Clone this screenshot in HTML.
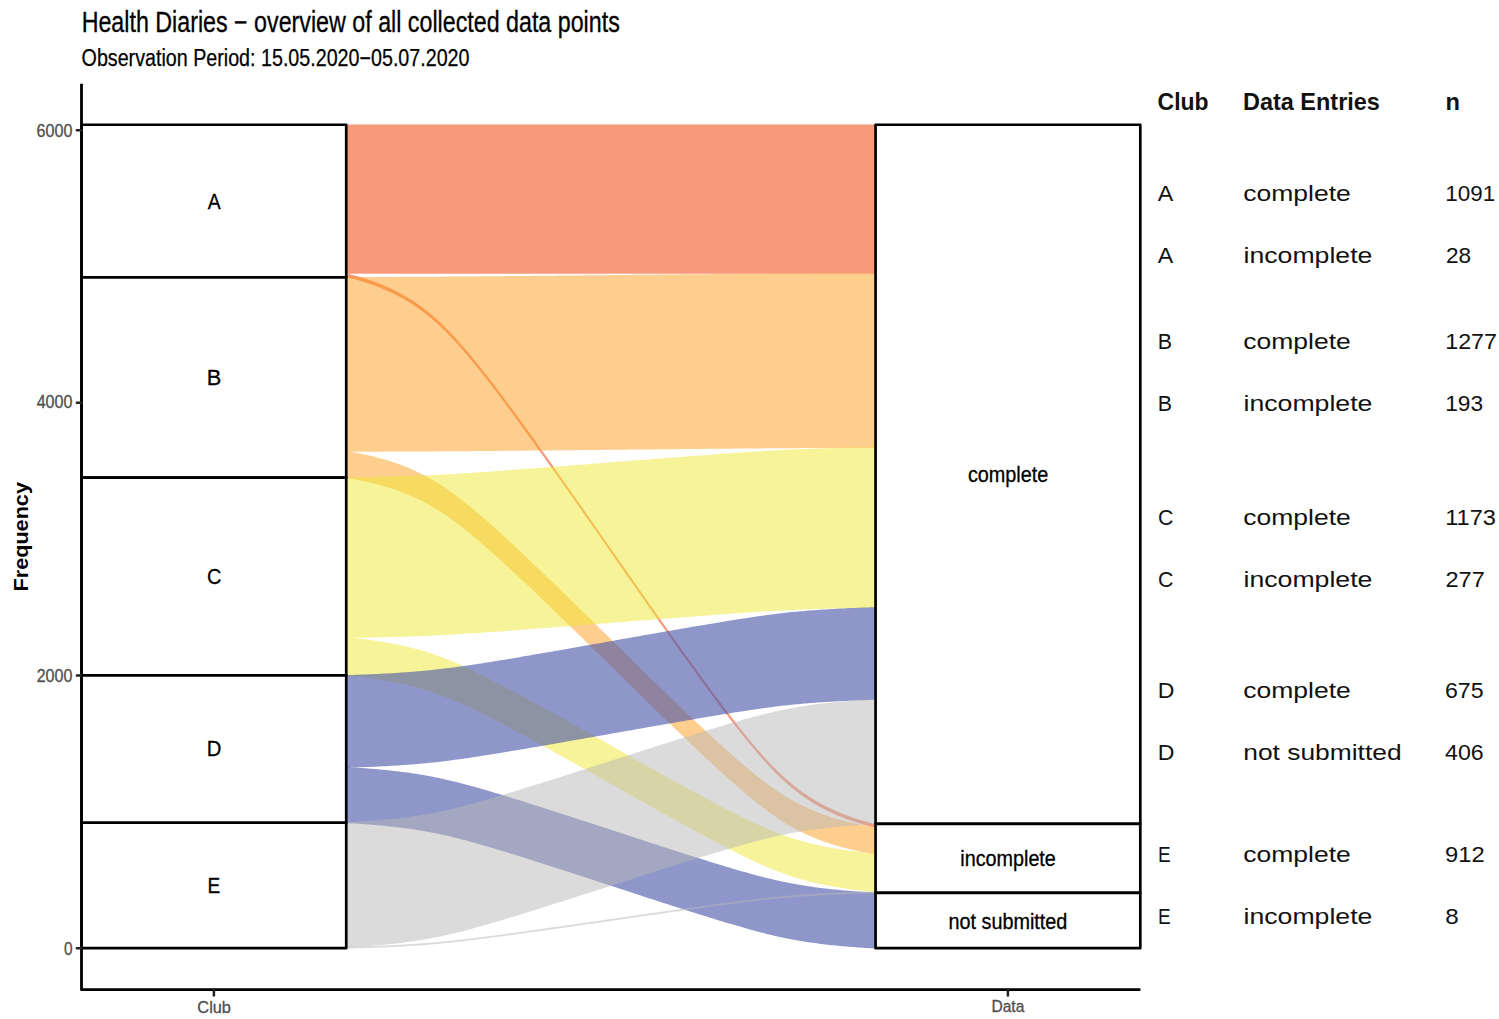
<!DOCTYPE html>
<html><head><meta charset="utf-8"><style>
html,body{margin:0;padding:0;background:#fff;}
svg{display:block;}
text{font-family:"Liberation Sans",sans-serif;}
</style></head><body>
<svg width="1499" height="1019" viewBox="0 0 1499 1019">
<rect width="1499" height="1019" fill="#fff"/>
<path d="M346.23,124.45 L346.23,124.45 L346.24,124.45 L346.27,124.45 L346.33,124.45 L346.42,124.45 L346.55,124.45 L346.73,124.45 L346.96,124.45 L347.26,124.45 L347.62,124.45 L348.06,124.45 L348.57,124.45 L349.16,124.45 L349.84,124.45 L350.60,124.45 L351.44,124.45 L352.38,124.45 L353.40,124.45 L354.51,124.45 L355.71,124.45 L356.99,124.45 L358.35,124.45 L359.80,124.45 L361.32,124.45 L362.91,124.45 L364.57,124.45 L366.29,124.45 L368.08,124.45 L369.91,124.45 L371.80,124.45 L373.72,124.45 L375.69,124.45 L377.69,124.45 L379.72,124.45 L381.78,124.45 L383.85,124.45 L385.94,124.45 L388.05,124.45 L390.16,124.45 L392.28,124.45 L394.40,124.45 L396.52,124.45 L398.65,124.45 L400.77,124.45 L402.88,124.45 L404.99,124.45 L407.09,124.45 L409.19,124.45 L411.28,124.45 L413.36,124.45 L415.43,124.45 L417.50,124.45 L419.56,124.45 L421.62,124.45 L423.67,124.45 L425.72,124.45 L427.77,124.45 L429.82,124.45 L431.87,124.45 L433.92,124.45 L435.98,124.45 L438.04,124.45 L440.11,124.45 L442.20,124.45 L444.29,124.45 L446.40,124.45 L448.53,124.45 L450.67,124.45 L452.84,124.45 L455.03,124.45 L457.24,124.45 L459.48,124.45 L461.75,124.45 L464.05,124.45 L466.38,124.45 L468.75,124.45 L471.15,124.45 L473.58,124.45 L476.06,124.45 L478.57,124.45 L481.11,124.45 L483.69,124.45 L486.32,124.45 L488.98,124.45 L491.69,124.45 L494.43,124.45 L497.22,124.45 L500.05,124.45 L502.93,124.45 L505.85,124.45 L508.81,124.45 L511.82,124.45 L514.88,124.45 L517.98,124.45 L521.12,124.45 L524.30,124.45 L527.53,124.45 L530.81,124.45 L534.12,124.45 L537.48,124.45 L540.87,124.45 L544.31,124.45 L547.78,124.45 L551.29,124.45 L554.83,124.45 L558.41,124.45 L562.02,124.45 L565.66,124.45 L569.33,124.45 L573.02,124.45 L576.74,124.45 L580.48,124.45 L584.24,124.45 L588.01,124.45 L591.80,124.45 L595.61,124.45 L599.42,124.45 L603.24,124.45 L607.07,124.45 L610.90,124.45 L614.73,124.45 L618.56,124.45 L622.38,124.45 L626.19,124.45 L630.00,124.45 L633.79,124.45 L637.56,124.45 L641.32,124.45 L645.06,124.45 L648.78,124.45 L652.47,124.45 L656.14,124.45 L659.78,124.45 L663.39,124.45 L666.97,124.45 L670.51,124.45 L674.02,124.45 L677.49,124.45 L680.93,124.45 L684.32,124.45 L687.68,124.45 L690.99,124.45 L694.27,124.45 L697.50,124.45 L700.68,124.45 L703.82,124.45 L706.92,124.45 L709.98,124.45 L712.99,124.45 L715.95,124.45 L718.87,124.45 L721.75,124.45 L724.58,124.45 L727.37,124.45 L730.11,124.45 L732.82,124.45 L735.48,124.45 L738.11,124.45 L740.69,124.45 L743.24,124.45 L745.74,124.45 L748.22,124.45 L750.65,124.45 L753.05,124.45 L755.42,124.45 L757.75,124.45 L760.05,124.45 L762.32,124.45 L764.56,124.45 L766.77,124.45 L768.96,124.45 L771.13,124.45 L773.27,124.45 L775.40,124.45 L777.51,124.45 L779.60,124.45 L781.69,124.45 L783.76,124.45 L785.82,124.45 L787.88,124.45 L789.93,124.45 L791.98,124.45 L794.03,124.45 L796.08,124.45 L798.13,124.45 L800.18,124.45 L802.24,124.45 L804.30,124.45 L806.37,124.45 L808.44,124.45 L810.52,124.45 L812.61,124.45 L814.71,124.45 L816.81,124.45 L818.92,124.45 L821.03,124.45 L823.15,124.45 L825.28,124.45 L827.40,124.45 L829.52,124.45 L831.64,124.45 L833.75,124.45 L835.86,124.45 L837.95,124.45 L840.02,124.45 L842.08,124.45 L844.11,124.45 L846.11,124.45 L848.08,124.45 L850.00,124.45 L851.89,124.45 L853.72,124.45 L855.51,124.45 L857.23,124.45 L858.89,124.45 L860.48,124.45 L862.00,124.45 L863.45,124.45 L864.81,124.45 L866.09,124.45 L867.29,124.45 L868.40,124.45 L869.42,124.45 L870.36,124.45 L871.20,124.45 L871.96,124.45 L872.64,124.45 L873.23,124.45 L873.74,124.45 L874.18,124.45 L874.54,124.45 L874.84,124.45 L875.07,124.45 L875.25,124.45 L875.38,124.45 L875.47,124.45 L875.53,124.45 L875.56,124.45 L875.57,124.45 L875.57,124.45 L875.57,273.79 L875.57,273.79 L875.56,273.79 L875.53,273.79 L875.47,273.79 L875.38,273.79 L875.25,273.79 L875.07,273.79 L874.84,273.79 L874.54,273.79 L874.18,273.79 L873.74,273.79 L873.23,273.79 L872.64,273.79 L871.96,273.79 L871.20,273.79 L870.36,273.79 L869.42,273.79 L868.40,273.79 L867.29,273.79 L866.09,273.79 L864.81,273.79 L863.45,273.79 L862.00,273.79 L860.48,273.79 L858.89,273.79 L857.23,273.79 L855.51,273.79 L853.72,273.79 L851.89,273.79 L850.00,273.79 L848.08,273.79 L846.11,273.79 L844.11,273.79 L842.08,273.79 L840.02,273.79 L837.95,273.79 L835.86,273.79 L833.75,273.79 L831.64,273.79 L829.52,273.79 L827.40,273.79 L825.28,273.79 L823.15,273.79 L821.03,273.79 L818.92,273.79 L816.81,273.79 L814.71,273.79 L812.61,273.79 L810.52,273.79 L808.44,273.79 L806.37,273.79 L804.30,273.79 L802.24,273.79 L800.18,273.79 L798.13,273.79 L796.08,273.79 L794.03,273.79 L791.98,273.79 L789.93,273.79 L787.88,273.79 L785.82,273.79 L783.76,273.79 L781.69,273.79 L779.60,273.79 L777.51,273.79 L775.40,273.79 L773.27,273.79 L771.13,273.79 L768.96,273.79 L766.77,273.79 L764.56,273.79 L762.32,273.79 L760.05,273.79 L757.75,273.79 L755.42,273.79 L753.05,273.79 L750.65,273.79 L748.22,273.79 L745.74,273.79 L743.24,273.79 L740.69,273.79 L738.11,273.79 L735.48,273.79 L732.82,273.79 L730.11,273.79 L727.37,273.79 L724.58,273.79 L721.75,273.79 L718.87,273.79 L715.95,273.79 L712.99,273.79 L709.98,273.79 L706.92,273.79 L703.82,273.79 L700.68,273.79 L697.50,273.79 L694.27,273.79 L690.99,273.79 L687.68,273.79 L684.32,273.79 L680.93,273.79 L677.49,273.79 L674.02,273.79 L670.51,273.79 L666.97,273.79 L663.39,273.79 L659.78,273.79 L656.14,273.79 L652.47,273.79 L648.78,273.79 L645.06,273.79 L641.32,273.79 L637.56,273.79 L633.79,273.79 L630.00,273.79 L626.19,273.79 L622.38,273.79 L618.56,273.79 L614.73,273.79 L610.90,273.79 L607.07,273.79 L603.24,273.79 L599.42,273.79 L595.61,273.79 L591.80,273.79 L588.01,273.79 L584.24,273.79 L580.48,273.79 L576.74,273.79 L573.02,273.79 L569.33,273.79 L565.66,273.79 L562.02,273.79 L558.41,273.79 L554.83,273.79 L551.29,273.79 L547.78,273.79 L544.31,273.79 L540.87,273.79 L537.48,273.79 L534.12,273.79 L530.81,273.79 L527.53,273.79 L524.30,273.79 L521.12,273.79 L517.98,273.79 L514.88,273.79 L511.82,273.79 L508.81,273.79 L505.85,273.79 L502.93,273.79 L500.05,273.79 L497.22,273.79 L494.43,273.79 L491.69,273.79 L488.98,273.79 L486.32,273.79 L483.69,273.79 L481.11,273.79 L478.57,273.79 L476.06,273.79 L473.58,273.79 L471.15,273.79 L468.75,273.79 L466.38,273.79 L464.05,273.79 L461.75,273.79 L459.48,273.79 L457.24,273.79 L455.03,273.79 L452.84,273.79 L450.67,273.79 L448.53,273.79 L446.40,273.79 L444.29,273.79 L442.20,273.79 L440.11,273.79 L438.04,273.79 L435.98,273.79 L433.92,273.79 L431.87,273.79 L429.82,273.79 L427.77,273.79 L425.72,273.79 L423.67,273.79 L421.62,273.79 L419.56,273.79 L417.50,273.79 L415.43,273.79 L413.36,273.79 L411.28,273.79 L409.19,273.79 L407.09,273.79 L404.99,273.79 L402.88,273.79 L400.77,273.79 L398.65,273.79 L396.52,273.79 L394.40,273.79 L392.28,273.79 L390.16,273.79 L388.05,273.79 L385.94,273.79 L383.85,273.79 L381.78,273.79 L379.72,273.79 L377.69,273.79 L375.69,273.79 L373.72,273.79 L371.80,273.79 L369.91,273.79 L368.08,273.79 L366.29,273.79 L364.57,273.79 L362.91,273.79 L361.32,273.79 L359.80,273.79 L358.35,273.79 L356.99,273.79 L355.71,273.79 L354.51,273.79 L353.40,273.79 L352.38,273.79 L351.44,273.79 L350.60,273.79 L349.84,273.79 L349.16,273.79 L348.57,273.79 L348.06,273.79 L347.62,273.79 L347.26,273.79 L346.96,273.79 L346.73,273.79 L346.55,273.79 L346.42,273.79 L346.33,273.79 L346.27,273.79 L346.24,273.79 L346.23,273.79 L346.23,273.79Z" fill="#F03B01" fill-opacity="0.52"/>
<path d="M346.23,273.49 L346.23,273.49 L346.24,273.49 L346.27,273.50 L346.33,273.51 L346.42,273.52 L346.55,273.55 L346.73,273.58 L346.96,273.63 L347.26,273.69 L347.62,273.77 L348.06,273.86 L348.57,273.98 L349.16,274.11 L349.84,274.27 L350.60,274.45 L351.44,274.65 L352.38,274.89 L353.40,275.15 L354.51,275.44 L355.71,275.76 L356.99,276.11 L358.35,276.50 L359.80,276.92 L361.32,277.37 L362.91,277.86 L364.57,278.38 L366.29,278.94 L368.08,279.53 L369.91,280.15 L371.80,280.81 L373.72,281.51 L375.69,282.24 L377.69,283.00 L379.72,283.80 L381.78,284.63 L383.85,285.50 L385.94,286.40 L388.05,287.33 L390.16,288.29 L392.28,289.29 L394.40,290.32 L396.52,291.39 L398.65,292.48 L400.77,293.62 L402.88,294.78 L404.99,295.98 L407.09,297.21 L409.19,298.48 L411.28,299.78 L413.36,301.12 L415.43,302.50 L417.50,303.91 L419.56,305.37 L421.62,306.86 L423.67,308.40 L425.72,309.98 L427.77,311.61 L429.82,313.28 L431.87,314.99 L433.92,316.76 L435.98,318.58 L438.04,320.45 L440.11,322.37 L442.20,324.36 L444.29,326.40 L446.40,328.50 L448.53,330.66 L450.67,332.88 L452.84,335.18 L455.03,337.54 L457.24,339.97 L459.48,342.47 L461.75,345.05 L464.05,347.70 L466.38,350.42 L468.75,353.23 L471.15,356.11 L473.58,359.07 L476.06,362.10 L478.57,365.22 L481.11,368.41 L483.69,371.68 L486.32,375.03 L488.98,378.45 L491.69,381.96 L494.43,385.55 L497.22,389.21 L500.05,392.96 L502.93,396.79 L505.85,400.70 L508.81,404.69 L511.82,408.77 L514.88,412.92 L517.98,417.15 L521.12,421.46 L524.30,425.85 L527.53,430.31 L530.81,434.85 L534.12,439.47 L537.48,444.15 L540.87,448.90 L544.31,453.73 L547.78,458.61 L551.29,463.56 L554.83,468.57 L558.41,473.64 L562.02,478.76 L565.66,483.94 L569.33,489.16 L573.02,494.42 L576.74,499.73 L580.48,505.07 L584.24,510.45 L588.01,515.85 L591.80,521.28 L595.61,526.74 L599.42,532.21 L603.24,537.69 L607.07,543.18 L610.90,548.68 L614.73,554.17 L618.56,559.66 L622.38,565.15 L626.19,570.62 L630.00,576.07 L633.79,581.50 L637.56,586.91 L641.32,592.28 L645.06,597.63 L648.78,602.93 L652.47,608.20 L656.14,613.42 L659.78,618.59 L663.39,623.71 L666.97,628.78 L670.51,633.79 L674.02,638.74 L677.49,643.63 L680.93,648.45 L684.32,653.20 L687.68,657.89 L690.99,662.50 L694.27,667.04 L697.50,671.50 L700.68,675.89 L703.82,680.20 L706.92,684.43 L709.98,688.59 L712.99,692.66 L715.95,696.65 L718.87,700.56 L721.75,704.39 L724.58,708.14 L727.37,711.81 L730.11,715.39 L732.82,718.90 L735.48,722.33 L738.11,725.67 L740.69,728.94 L743.24,732.13 L745.74,735.25 L748.22,738.29 L750.65,741.25 L753.05,744.13 L755.42,746.93 L757.75,749.66 L760.05,752.31 L762.32,754.88 L764.56,757.38 L766.77,759.82 L768.96,762.18 L771.13,764.47 L773.27,766.69 L775.40,768.86 L777.51,770.96 L779.60,773.00 L781.69,774.98 L783.76,776.90 L785.82,778.77 L787.88,780.59 L789.93,782.36 L791.98,784.08 L794.03,785.75 L796.08,787.37 L798.13,788.95 L800.18,790.49 L802.24,791.98 L804.30,793.44 L806.37,794.85 L808.44,796.23 L810.52,797.57 L812.61,798.87 L814.71,800.14 L816.81,801.37 L818.92,802.57 L821.03,803.74 L823.15,804.87 L825.28,805.96 L827.40,807.03 L829.52,808.06 L831.64,809.06 L833.75,810.02 L835.86,810.95 L837.95,811.85 L840.02,812.72 L842.08,813.55 L844.11,814.35 L846.11,815.11 L848.08,815.84 L850.00,816.54 L851.89,817.20 L853.72,817.82 L855.51,818.41 L857.23,818.97 L858.89,819.49 L860.48,819.98 L862.00,820.43 L863.45,820.85 L864.81,821.24 L866.09,821.59 L867.29,821.91 L868.40,822.20 L869.42,822.47 L870.36,822.70 L871.20,822.91 L871.96,823.09 L872.64,823.24 L873.23,823.38 L873.74,823.49 L874.18,823.58 L874.54,823.66 L874.84,823.72 L875.07,823.77 L875.25,823.80 L875.38,823.83 L875.47,823.85 L875.53,823.86 L875.56,823.86 L875.57,823.86 L875.57,823.86 L875.57,827.68 L875.57,827.68 L875.56,827.68 L875.53,827.67 L875.47,827.66 L875.38,827.65 L875.25,827.62 L875.07,827.59 L874.84,827.54 L874.54,827.48 L874.18,827.40 L873.74,827.31 L873.23,827.19 L872.64,827.06 L871.96,826.90 L871.20,826.72 L870.36,826.52 L869.42,826.28 L868.40,826.02 L867.29,825.73 L866.09,825.41 L864.81,825.06 L863.45,824.67 L862.00,824.25 L860.48,823.80 L858.89,823.31 L857.23,822.79 L855.51,822.23 L853.72,821.64 L851.89,821.02 L850.00,820.35 L848.08,819.66 L846.11,818.93 L844.11,818.17 L842.08,817.37 L840.02,816.54 L837.95,815.67 L835.86,814.77 L833.75,813.84 L831.64,812.87 L829.52,811.88 L827.40,810.85 L825.28,809.78 L823.15,808.68 L821.03,807.55 L818.92,806.39 L816.81,805.19 L814.71,803.96 L812.61,802.69 L810.52,801.39 L808.44,800.05 L806.37,798.67 L804.30,797.26 L802.24,795.80 L800.18,794.31 L798.13,792.77 L796.08,791.19 L794.03,789.56 L791.98,787.89 L789.93,786.18 L787.88,784.41 L785.82,782.59 L783.76,780.72 L781.69,778.80 L779.60,776.81 L777.51,774.77 L775.40,772.67 L773.27,770.51 L771.13,768.29 L768.96,765.99 L766.77,763.63 L764.56,761.20 L762.32,758.70 L760.05,756.12 L757.75,753.47 L755.42,750.75 L753.05,747.94 L750.65,745.06 L748.22,742.10 L745.74,739.07 L743.24,735.95 L740.69,732.76 L738.11,729.49 L735.48,726.14 L732.82,722.72 L730.11,719.21 L727.37,715.62 L724.58,711.96 L721.75,708.21 L718.87,704.38 L715.95,700.47 L712.99,696.48 L709.98,692.40 L706.92,688.25 L703.82,684.02 L700.68,679.71 L697.50,675.32 L694.27,670.86 L690.99,666.32 L687.68,661.70 L684.32,657.02 L680.93,652.26 L677.49,647.44 L674.02,642.56 L670.51,637.61 L666.97,632.60 L663.39,627.53 L659.78,622.41 L656.14,617.23 L652.47,612.01 L648.78,606.75 L645.06,601.44 L641.32,596.10 L637.56,590.72 L633.79,585.32 L630.00,579.89 L626.19,574.43 L622.38,568.96 L618.56,563.48 L614.73,557.99 L610.90,552.49 L607.07,547.00 L603.24,541.51 L599.42,536.02 L595.61,530.55 L591.80,525.10 L588.01,519.67 L584.24,514.26 L580.48,508.89 L576.74,503.54 L573.02,498.24 L569.33,492.97 L565.66,487.75 L562.02,482.58 L558.41,477.46 L554.83,472.39 L551.29,467.38 L547.78,462.43 L544.31,457.54 L540.87,452.72 L537.48,447.97 L534.12,443.28 L530.81,438.67 L527.53,434.13 L524.30,429.67 L521.12,425.28 L517.98,420.97 L514.88,416.74 L511.82,412.58 L508.81,408.51 L505.85,404.52 L502.93,400.61 L500.05,396.78 L497.22,393.03 L494.43,389.36 L491.69,385.78 L488.98,382.27 L486.32,378.84 L483.69,375.50 L481.11,372.23 L478.57,369.03 L476.06,365.92 L473.58,362.88 L471.15,359.92 L468.75,357.04 L466.38,354.24 L464.05,351.51 L461.75,348.86 L459.48,346.29 L457.24,343.79 L455.03,341.35 L452.84,338.99 L450.67,336.70 L448.53,334.48 L446.40,332.31 L444.29,330.21 L442.20,328.17 L440.11,326.19 L438.04,324.27 L435.98,322.40 L433.92,320.58 L431.87,318.81 L429.82,317.09 L427.77,315.42 L425.72,313.80 L423.67,312.22 L421.62,310.68 L419.56,309.19 L417.50,307.73 L415.43,306.32 L413.36,304.94 L411.28,303.60 L409.19,302.30 L407.09,301.03 L404.99,299.80 L402.88,298.60 L400.77,297.43 L398.65,296.30 L396.52,295.21 L394.40,294.14 L392.28,293.11 L390.16,292.11 L388.05,291.15 L385.94,290.22 L383.85,289.32 L381.78,288.45 L379.72,287.62 L377.69,286.82 L375.69,286.06 L373.72,285.33 L371.80,284.63 L369.91,283.97 L368.08,283.35 L366.29,282.75 L364.57,282.20 L362.91,281.68 L361.32,281.19 L359.80,280.74 L358.35,280.32 L356.99,279.93 L355.71,279.58 L354.51,279.26 L353.40,278.96 L352.38,278.70 L351.44,278.47 L350.60,278.26 L349.84,278.08 L349.16,277.93 L348.57,277.79 L348.06,277.68 L347.62,277.59 L347.26,277.51 L346.96,277.45 L346.73,277.40 L346.55,277.36 L346.42,277.34 L346.33,277.32 L346.27,277.31 L346.24,277.31 L346.23,277.31 L346.23,277.31Z" fill="#F03B01" fill-opacity="0.52"/>
<path d="M346.23,277.01 L346.23,277.01 L346.24,277.01 L346.27,277.01 L346.33,277.01 L346.42,277.01 L346.55,277.00 L346.73,277.00 L346.96,277.00 L347.26,277.00 L347.62,277.00 L348.06,277.00 L348.57,277.00 L349.16,277.00 L349.84,277.00 L350.60,277.00 L351.44,277.00 L352.38,277.00 L353.40,276.99 L354.51,276.99 L355.71,276.99 L356.99,276.99 L358.35,276.98 L359.80,276.98 L361.32,276.98 L362.91,276.97 L364.57,276.97 L366.29,276.97 L368.08,276.96 L369.91,276.96 L371.80,276.95 L373.72,276.95 L375.69,276.94 L377.69,276.94 L379.72,276.93 L381.78,276.93 L383.85,276.92 L385.94,276.92 L388.05,276.91 L390.16,276.90 L392.28,276.90 L394.40,276.89 L396.52,276.88 L398.65,276.87 L400.77,276.87 L402.88,276.86 L404.99,276.85 L407.09,276.84 L409.19,276.83 L411.28,276.82 L413.36,276.81 L415.43,276.80 L417.50,276.79 L419.56,276.78 L421.62,276.77 L423.67,276.76 L425.72,276.75 L427.77,276.74 L429.82,276.73 L431.87,276.72 L433.92,276.71 L435.98,276.69 L438.04,276.68 L440.11,276.67 L442.20,276.65 L444.29,276.64 L446.40,276.62 L448.53,276.61 L450.67,276.59 L452.84,276.58 L455.03,276.56 L457.24,276.54 L459.48,276.53 L461.75,276.51 L464.05,276.49 L466.38,276.47 L468.75,276.45 L471.15,276.43 L473.58,276.41 L476.06,276.39 L478.57,276.37 L481.11,276.35 L483.69,276.32 L486.32,276.30 L488.98,276.28 L491.69,276.25 L494.43,276.23 L497.22,276.20 L500.05,276.18 L502.93,276.15 L505.85,276.12 L508.81,276.10 L511.82,276.07 L514.88,276.04 L517.98,276.01 L521.12,275.98 L524.30,275.95 L527.53,275.92 L530.81,275.89 L534.12,275.85 L537.48,275.82 L540.87,275.79 L544.31,275.76 L547.78,275.72 L551.29,275.69 L554.83,275.65 L558.41,275.62 L562.02,275.58 L565.66,275.55 L569.33,275.51 L573.02,275.47 L576.74,275.44 L580.48,275.40 L584.24,275.36 L588.01,275.32 L591.80,275.29 L595.61,275.25 L599.42,275.21 L603.24,275.17 L607.07,275.13 L610.90,275.10 L614.73,275.06 L618.56,275.02 L622.38,274.98 L626.19,274.94 L630.00,274.91 L633.79,274.87 L637.56,274.83 L641.32,274.79 L645.06,274.76 L648.78,274.72 L652.47,274.68 L656.14,274.65 L659.78,274.61 L663.39,274.58 L666.97,274.54 L670.51,274.51 L674.02,274.47 L677.49,274.44 L680.93,274.40 L684.32,274.37 L687.68,274.34 L690.99,274.31 L694.27,274.28 L697.50,274.24 L700.68,274.21 L703.82,274.18 L706.92,274.16 L709.98,274.13 L712.99,274.10 L715.95,274.07 L718.87,274.04 L721.75,274.02 L724.58,273.99 L727.37,273.97 L730.11,273.94 L732.82,273.92 L735.48,273.89 L738.11,273.87 L740.69,273.85 L743.24,273.82 L745.74,273.80 L748.22,273.78 L750.65,273.76 L753.05,273.74 L755.42,273.72 L757.75,273.70 L760.05,273.68 L762.32,273.67 L764.56,273.65 L766.77,273.63 L768.96,273.62 L771.13,273.60 L773.27,273.58 L775.40,273.57 L777.51,273.55 L779.60,273.54 L781.69,273.53 L783.76,273.51 L785.82,273.50 L787.88,273.49 L789.93,273.48 L791.98,273.46 L794.03,273.45 L796.08,273.44 L798.13,273.43 L800.18,273.42 L802.24,273.41 L804.30,273.40 L806.37,273.39 L808.44,273.38 L810.52,273.37 L812.61,273.36 L814.71,273.35 L816.81,273.34 L818.92,273.34 L821.03,273.33 L823.15,273.32 L825.28,273.31 L827.40,273.30 L829.52,273.30 L831.64,273.29 L833.75,273.28 L835.86,273.28 L837.95,273.27 L840.02,273.27 L842.08,273.26 L844.11,273.25 L846.11,273.25 L848.08,273.24 L850.00,273.24 L851.89,273.23 L853.72,273.23 L855.51,273.23 L857.23,273.22 L858.89,273.22 L860.48,273.21 L862.00,273.21 L863.45,273.21 L864.81,273.21 L866.09,273.20 L867.29,273.20 L868.40,273.20 L869.42,273.20 L870.36,273.20 L871.20,273.19 L871.96,273.19 L872.64,273.19 L873.23,273.19 L873.74,273.19 L874.18,273.19 L874.54,273.19 L874.84,273.19 L875.07,273.19 L875.25,273.19 L875.38,273.19 L875.47,273.19 L875.53,273.19 L875.56,273.19 L875.57,273.19 L875.57,273.19 L875.57,447.89 L875.57,447.89 L875.56,447.89 L875.53,447.89 L875.47,447.89 L875.38,447.89 L875.25,447.89 L875.07,447.89 L874.84,447.89 L874.54,447.89 L874.18,447.89 L873.74,447.89 L873.23,447.89 L872.64,447.89 L871.96,447.89 L871.20,447.89 L870.36,447.89 L869.42,447.89 L868.40,447.90 L867.29,447.90 L866.09,447.90 L864.81,447.90 L863.45,447.91 L862.00,447.91 L860.48,447.91 L858.89,447.92 L857.23,447.92 L855.51,447.92 L853.72,447.93 L851.89,447.93 L850.00,447.94 L848.08,447.94 L846.11,447.95 L844.11,447.95 L842.08,447.96 L840.02,447.96 L837.95,447.97 L835.86,447.97 L833.75,447.98 L831.64,447.99 L829.52,447.99 L827.40,448.00 L825.28,448.01 L823.15,448.02 L821.03,448.02 L818.92,448.03 L816.81,448.04 L814.71,448.05 L812.61,448.06 L810.52,448.07 L808.44,448.08 L806.37,448.09 L804.30,448.10 L802.24,448.11 L800.18,448.12 L798.13,448.13 L796.08,448.14 L794.03,448.15 L791.98,448.16 L789.93,448.17 L787.88,448.19 L785.82,448.20 L783.76,448.21 L781.69,448.22 L779.60,448.24 L777.51,448.25 L775.40,448.27 L773.27,448.28 L771.13,448.30 L768.96,448.31 L766.77,448.33 L764.56,448.35 L762.32,448.36 L760.05,448.38 L757.75,448.40 L755.42,448.42 L753.05,448.44 L750.65,448.46 L748.22,448.48 L745.74,448.50 L743.24,448.52 L740.69,448.54 L738.11,448.57 L735.48,448.59 L732.82,448.61 L730.11,448.64 L727.37,448.66 L724.58,448.69 L721.75,448.71 L718.87,448.74 L715.95,448.77 L712.99,448.80 L709.98,448.82 L706.92,448.85 L703.82,448.88 L700.68,448.91 L697.50,448.94 L694.27,448.97 L690.99,449.00 L687.68,449.04 L684.32,449.07 L680.93,449.10 L677.49,449.14 L674.02,449.17 L670.51,449.20 L666.97,449.24 L663.39,449.27 L659.78,449.31 L656.14,449.34 L652.47,449.38 L648.78,449.42 L645.06,449.45 L641.32,449.49 L637.56,449.53 L633.79,449.57 L630.00,449.60 L626.19,449.64 L622.38,449.68 L618.56,449.72 L614.73,449.76 L610.90,449.79 L607.07,449.83 L603.24,449.87 L599.42,449.91 L595.61,449.95 L591.80,449.98 L588.01,450.02 L584.24,450.06 L580.48,450.10 L576.74,450.13 L573.02,450.17 L569.33,450.21 L565.66,450.24 L562.02,450.28 L558.41,450.31 L554.83,450.35 L551.29,450.38 L547.78,450.42 L544.31,450.45 L540.87,450.49 L537.48,450.52 L534.12,450.55 L530.81,450.58 L527.53,450.61 L524.30,450.65 L521.12,450.68 L517.98,450.71 L514.88,450.74 L511.82,450.76 L508.81,450.79 L505.85,450.82 L502.93,450.85 L500.05,450.87 L497.22,450.90 L494.43,450.93 L491.69,450.95 L488.98,450.97 L486.32,451.00 L483.69,451.02 L481.11,451.04 L478.57,451.07 L476.06,451.09 L473.58,451.11 L471.15,451.13 L468.75,451.15 L466.38,451.17 L464.05,451.19 L461.75,451.21 L459.48,451.22 L457.24,451.24 L455.03,451.26 L452.84,451.27 L450.67,451.29 L448.53,451.31 L446.40,451.32 L444.29,451.34 L442.20,451.35 L440.11,451.36 L438.04,451.38 L435.98,451.39 L433.92,451.40 L431.87,451.41 L429.82,451.43 L427.77,451.44 L425.72,451.45 L423.67,451.46 L421.62,451.47 L419.56,451.48 L417.50,451.49 L415.43,451.50 L413.36,451.51 L411.28,451.52 L409.19,451.53 L407.09,451.54 L404.99,451.55 L402.88,451.55 L400.77,451.56 L398.65,451.57 L396.52,451.58 L394.40,451.59 L392.28,451.59 L390.16,451.60 L388.05,451.61 L385.94,451.61 L383.85,451.62 L381.78,451.63 L379.72,451.63 L377.69,451.64 L375.69,451.64 L373.72,451.65 L371.80,451.65 L369.91,451.66 L368.08,451.66 L366.29,451.66 L364.57,451.67 L362.91,451.67 L361.32,451.68 L359.80,451.68 L358.35,451.68 L356.99,451.68 L355.71,451.69 L354.51,451.69 L353.40,451.69 L352.38,451.69 L351.44,451.69 L350.60,451.70 L349.84,451.70 L349.16,451.70 L348.57,451.70 L348.06,451.70 L347.62,451.70 L347.26,451.70 L346.96,451.70 L346.73,451.70 L346.55,451.70 L346.42,451.70 L346.33,451.70 L346.27,451.70 L346.24,451.70 L346.23,451.70 L346.23,451.70Z" fill="#FD9D1D" fill-opacity="0.5"/>
<path d="M346.23,451.10 L346.23,451.10 L346.24,451.10 L346.27,451.11 L346.33,451.11 L346.42,451.13 L346.55,451.14 L346.73,451.17 L346.96,451.20 L347.26,451.24 L347.62,451.29 L348.06,451.36 L348.57,451.44 L349.16,451.53 L349.84,451.63 L350.60,451.76 L351.44,451.90 L352.38,452.06 L353.40,452.24 L354.51,452.44 L355.71,452.66 L356.99,452.90 L358.35,453.16 L359.80,453.45 L361.32,453.76 L362.91,454.09 L364.57,454.45 L366.29,454.83 L368.08,455.23 L369.91,455.66 L371.80,456.11 L373.72,456.59 L375.69,457.09 L377.69,457.61 L379.72,458.15 L381.78,458.72 L383.85,459.31 L385.94,459.93 L388.05,460.57 L390.16,461.23 L392.28,461.91 L394.40,462.61 L396.52,463.34 L398.65,464.09 L400.77,464.86 L402.88,465.66 L404.99,466.48 L407.09,467.32 L409.19,468.19 L411.28,469.08 L413.36,469.99 L415.43,470.94 L417.50,471.90 L419.56,472.90 L421.62,473.92 L423.67,474.97 L425.72,476.05 L427.77,477.16 L429.82,478.30 L431.87,479.48 L433.92,480.69 L435.98,481.93 L438.04,483.21 L440.11,484.53 L442.20,485.88 L444.29,487.27 L446.40,488.71 L448.53,490.19 L450.67,491.71 L452.84,493.28 L455.03,494.89 L457.24,496.55 L459.48,498.26 L461.75,500.02 L464.05,501.84 L466.38,503.70 L468.75,505.62 L471.15,507.59 L473.58,509.61 L476.06,511.69 L478.57,513.82 L481.11,516.00 L483.69,518.23 L486.32,520.52 L488.98,522.86 L491.69,525.26 L494.43,527.71 L497.22,530.22 L500.05,532.78 L502.93,535.40 L505.85,538.08 L508.81,540.80 L511.82,543.59 L514.88,546.43 L517.98,549.32 L521.12,552.27 L524.30,555.27 L527.53,558.32 L530.81,561.42 L534.12,564.58 L537.48,567.78 L540.87,571.03 L544.31,574.33 L547.78,577.67 L551.29,581.05 L554.83,584.48 L558.41,587.94 L562.02,591.44 L565.66,594.98 L569.33,598.55 L573.02,602.15 L576.74,605.78 L580.48,609.43 L584.24,613.11 L588.01,616.80 L591.80,620.51 L595.61,624.24 L599.42,627.98 L603.24,631.73 L607.07,635.48 L610.90,639.24 L614.73,643.00 L618.56,646.75 L622.38,650.50 L626.19,654.24 L630.00,657.97 L633.79,661.68 L637.56,665.38 L641.32,669.05 L645.06,672.71 L648.78,676.34 L652.47,679.93 L656.14,683.50 L659.78,687.04 L663.39,690.54 L666.97,694.01 L670.51,697.43 L674.02,700.82 L677.49,704.16 L680.93,707.45 L684.32,710.70 L687.68,713.91 L690.99,717.06 L694.27,720.16 L697.50,723.22 L700.68,726.22 L703.82,729.16 L706.92,732.06 L709.98,734.90 L712.99,737.68 L715.95,740.41 L718.87,743.08 L721.75,745.70 L724.58,748.26 L727.37,750.77 L730.11,753.22 L732.82,755.62 L735.48,757.96 L738.11,760.25 L740.69,762.49 L743.24,764.67 L745.74,766.80 L748.22,768.87 L750.65,770.90 L753.05,772.87 L755.42,774.78 L757.75,776.65 L760.05,778.46 L762.32,780.22 L764.56,781.93 L766.77,783.59 L768.96,785.21 L771.13,786.77 L773.27,788.30 L775.40,789.77 L777.51,791.21 L779.60,792.60 L781.69,793.96 L783.76,795.28 L785.82,796.55 L787.88,797.80 L789.93,799.00 L791.98,800.18 L794.03,801.32 L796.08,802.43 L798.13,803.51 L800.18,804.56 L802.24,805.59 L804.30,806.58 L806.37,807.55 L808.44,808.49 L810.52,809.41 L812.61,810.30 L814.71,811.16 L816.81,812.01 L818.92,812.83 L821.03,813.62 L823.15,814.39 L825.28,815.14 L827.40,815.87 L829.52,816.58 L831.64,817.26 L833.75,817.92 L835.86,818.56 L837.95,819.17 L840.02,819.76 L842.08,820.33 L844.11,820.88 L846.11,821.40 L848.08,821.90 L850.00,822.37 L851.89,822.82 L853.72,823.25 L855.51,823.66 L857.23,824.04 L858.89,824.39 L860.48,824.73 L862.00,825.04 L863.45,825.32 L864.81,825.59 L866.09,825.83 L867.29,826.05 L868.40,826.25 L869.42,826.43 L870.36,826.59 L871.20,826.73 L871.96,826.85 L872.64,826.96 L873.23,827.05 L873.74,827.13 L874.18,827.19 L874.54,827.24 L874.84,827.28 L875.07,827.32 L875.25,827.34 L875.38,827.36 L875.47,827.37 L875.53,827.38 L875.56,827.38 L875.57,827.38 L875.57,827.38 L875.57,854.29 L875.57,854.29 L875.56,854.29 L875.53,854.29 L875.47,854.28 L875.38,854.27 L875.25,854.25 L875.07,854.23 L874.84,854.20 L874.54,854.15 L874.18,854.10 L873.74,854.04 L873.23,853.96 L872.64,853.87 L871.96,853.76 L871.20,853.64 L870.36,853.50 L869.42,853.34 L868.40,853.16 L867.29,852.96 L866.09,852.74 L864.81,852.50 L863.45,852.23 L862.00,851.95 L860.48,851.64 L858.89,851.31 L857.23,850.95 L855.51,850.57 L853.72,850.16 L851.89,849.74 L850.00,849.28 L848.08,848.81 L846.11,848.31 L844.11,847.79 L842.08,847.24 L840.02,846.67 L837.95,846.08 L835.86,845.47 L833.75,844.83 L831.64,844.17 L829.52,843.49 L827.40,842.78 L825.28,842.06 L823.15,841.31 L821.03,840.53 L818.92,839.74 L816.81,838.92 L814.71,838.08 L812.61,837.21 L810.52,836.32 L808.44,835.40 L806.37,834.46 L804.30,833.49 L802.24,832.50 L800.18,831.48 L798.13,830.42 L796.08,829.34 L794.03,828.23 L791.98,827.09 L789.93,825.92 L787.88,824.71 L785.82,823.47 L783.76,822.19 L781.69,820.87 L779.60,819.52 L777.51,818.12 L775.40,816.69 L773.27,815.21 L771.13,813.69 L768.96,812.12 L766.77,810.50 L764.56,808.84 L762.32,807.13 L760.05,805.37 L757.75,803.56 L755.42,801.70 L753.05,799.78 L750.65,797.81 L748.22,795.79 L745.74,793.71 L743.24,791.58 L740.69,789.40 L738.11,787.16 L735.48,784.88 L732.82,782.53 L730.11,780.14 L727.37,777.68 L724.58,775.18 L721.75,772.61 L718.87,769.99 L715.95,767.32 L712.99,764.59 L709.98,761.81 L706.92,758.97 L703.82,756.08 L700.68,753.13 L697.50,750.13 L694.27,747.08 L690.99,743.97 L687.68,740.82 L684.32,737.62 L680.93,734.37 L677.49,731.07 L674.02,727.73 L670.51,724.34 L666.97,720.92 L663.39,717.45 L659.78,713.95 L656.14,710.42 L652.47,706.85 L648.78,703.25 L645.06,699.62 L641.32,695.97 L637.56,692.29 L633.79,688.59 L630.00,684.88 L626.19,681.15 L622.38,677.41 L618.56,673.67 L614.73,669.91 L610.90,666.15 L607.07,662.40 L603.24,658.64 L599.42,654.89 L595.61,651.16 L591.80,647.43 L588.01,643.71 L584.24,640.02 L580.48,636.34 L576.74,632.69 L573.02,629.06 L569.33,625.46 L565.66,621.89 L562.02,618.36 L558.41,614.85 L554.83,611.39 L551.29,607.96 L547.78,604.58 L544.31,601.24 L540.87,597.94 L537.48,594.69 L534.12,591.49 L530.81,588.34 L527.53,585.23 L524.30,582.18 L521.12,579.18 L517.98,576.23 L514.88,573.34 L511.82,570.50 L508.81,567.72 L505.85,564.99 L502.93,562.31 L500.05,559.70 L497.22,557.13 L494.43,554.63 L491.69,552.17 L488.98,549.78 L486.32,547.43 L483.69,545.14 L481.11,542.91 L478.57,540.73 L476.06,538.60 L473.58,536.52 L471.15,534.50 L468.75,532.53 L466.38,530.61 L464.05,528.75 L461.75,526.94 L459.48,525.18 L457.24,523.47 L455.03,521.80 L452.84,520.19 L450.67,518.62 L448.53,517.10 L446.40,515.62 L444.29,514.19 L442.20,512.79 L440.11,511.44 L438.04,510.12 L435.98,508.84 L433.92,507.60 L431.87,506.39 L429.82,505.22 L427.77,504.08 L425.72,502.96 L423.67,501.88 L421.62,500.83 L419.56,499.81 L417.50,498.82 L415.43,497.85 L413.36,496.91 L411.28,495.99 L409.19,495.10 L407.09,494.23 L404.99,493.39 L402.88,492.57 L400.77,491.78 L398.65,491.00 L396.52,490.25 L394.40,489.52 L392.28,488.82 L390.16,488.14 L388.05,487.48 L385.94,486.84 L383.85,486.23 L381.78,485.63 L379.72,485.07 L377.69,484.52 L375.69,484.00 L373.72,483.50 L371.80,483.02 L369.91,482.57 L368.08,482.14 L366.29,481.74 L364.57,481.36 L362.91,481.00 L361.32,480.67 L359.80,480.36 L358.35,480.07 L356.99,479.81 L355.71,479.57 L354.51,479.35 L353.40,479.15 L352.38,478.97 L351.44,478.81 L350.60,478.67 L349.84,478.55 L349.16,478.44 L348.57,478.35 L348.06,478.27 L347.62,478.21 L347.26,478.15 L346.96,478.11 L346.73,478.08 L346.55,478.06 L346.42,478.04 L346.33,478.03 L346.27,478.02 L346.24,478.02 L346.23,478.02 L346.23,478.01Z" fill="#FD9D1D" fill-opacity="0.5"/>
<path d="M346.23,477.41 L346.23,477.41 L346.24,477.41 L346.27,477.41 L346.33,477.41 L346.42,477.41 L346.55,477.41 L346.73,477.41 L346.96,477.41 L347.26,477.40 L347.62,477.40 L348.06,477.39 L348.57,477.39 L349.16,477.38 L349.84,477.37 L350.60,477.36 L351.44,477.35 L352.38,477.34 L353.40,477.32 L354.51,477.31 L355.71,477.29 L356.99,477.27 L358.35,477.25 L359.80,477.23 L361.32,477.20 L362.91,477.18 L364.57,477.15 L366.29,477.12 L368.08,477.08 L369.91,477.05 L371.80,477.01 L373.72,476.98 L375.69,476.94 L377.69,476.89 L379.72,476.85 L381.78,476.80 L383.85,476.76 L385.94,476.71 L388.05,476.66 L390.16,476.60 L392.28,476.55 L394.40,476.49 L396.52,476.43 L398.65,476.37 L400.77,476.31 L402.88,476.25 L404.99,476.18 L407.09,476.12 L409.19,476.05 L411.28,475.98 L413.36,475.90 L415.43,475.83 L417.50,475.75 L419.56,475.67 L421.62,475.59 L423.67,475.50 L425.72,475.42 L427.77,475.33 L429.82,475.24 L431.87,475.14 L433.92,475.05 L435.98,474.95 L438.04,474.84 L440.11,474.74 L442.20,474.63 L444.29,474.52 L446.40,474.40 L448.53,474.29 L450.67,474.16 L452.84,474.04 L455.03,473.91 L457.24,473.78 L459.48,473.64 L461.75,473.50 L464.05,473.35 L466.38,473.20 L468.75,473.05 L471.15,472.89 L473.58,472.73 L476.06,472.56 L478.57,472.39 L481.11,472.22 L483.69,472.04 L486.32,471.86 L488.98,471.67 L491.69,471.48 L494.43,471.28 L497.22,471.08 L500.05,470.87 L502.93,470.66 L505.85,470.45 L508.81,470.23 L511.82,470.01 L514.88,469.78 L517.98,469.55 L521.12,469.31 L524.30,469.07 L527.53,468.83 L530.81,468.58 L534.12,468.33 L537.48,468.07 L540.87,467.81 L544.31,467.55 L547.78,467.28 L551.29,467.01 L554.83,466.74 L558.41,466.46 L562.02,466.18 L565.66,465.89 L569.33,465.61 L573.02,465.32 L576.74,465.03 L580.48,464.74 L584.24,464.44 L588.01,464.15 L591.80,463.85 L595.61,463.55 L599.42,463.25 L603.24,462.95 L607.07,462.65 L610.90,462.35 L614.73,462.05 L618.56,461.75 L622.38,461.45 L626.19,461.15 L630.00,460.85 L633.79,460.55 L637.56,460.26 L641.32,459.96 L645.06,459.67 L648.78,459.38 L652.47,459.09 L656.14,458.81 L659.78,458.52 L663.39,458.24 L666.97,457.96 L670.51,457.69 L674.02,457.42 L677.49,457.15 L680.93,456.89 L684.32,456.63 L687.68,456.37 L690.99,456.12 L694.27,455.87 L697.50,455.63 L700.68,455.39 L703.82,455.15 L706.92,454.92 L709.98,454.69 L712.99,454.47 L715.95,454.25 L718.87,454.04 L721.75,453.83 L724.58,453.62 L727.37,453.42 L730.11,453.22 L732.82,453.03 L735.48,452.84 L738.11,452.66 L740.69,452.48 L743.24,452.31 L745.74,452.14 L748.22,451.97 L750.65,451.81 L753.05,451.65 L755.42,451.50 L757.75,451.35 L760.05,451.20 L762.32,451.06 L764.56,450.92 L766.77,450.79 L768.96,450.66 L771.13,450.54 L773.27,450.41 L775.40,450.30 L777.51,450.18 L779.60,450.07 L781.69,449.96 L783.76,449.86 L785.82,449.75 L787.88,449.65 L789.93,449.56 L791.98,449.46 L794.03,449.37 L796.08,449.28 L798.13,449.20 L800.18,449.11 L802.24,449.03 L804.30,448.95 L806.37,448.87 L808.44,448.80 L810.52,448.72 L812.61,448.65 L814.71,448.58 L816.81,448.52 L818.92,448.45 L821.03,448.39 L823.15,448.33 L825.28,448.27 L827.40,448.21 L829.52,448.15 L831.64,448.10 L833.75,448.04 L835.86,447.99 L837.95,447.94 L840.02,447.90 L842.08,447.85 L844.11,447.81 L846.11,447.76 L848.08,447.72 L850.00,447.69 L851.89,447.65 L853.72,447.62 L855.51,447.58 L857.23,447.55 L858.89,447.52 L860.48,447.50 L862.00,447.47 L863.45,447.45 L864.81,447.43 L866.09,447.41 L867.29,447.39 L868.40,447.38 L869.42,447.36 L870.36,447.35 L871.20,447.34 L871.96,447.33 L872.64,447.32 L873.23,447.31 L873.74,447.31 L874.18,447.30 L874.54,447.30 L874.84,447.29 L875.07,447.29 L875.25,447.29 L875.38,447.29 L875.47,447.29 L875.53,447.29 L875.56,447.29 L875.57,447.29 L875.57,447.29 L875.57,607.80 L875.57,607.80 L875.56,607.80 L875.53,607.80 L875.47,607.80 L875.38,607.81 L875.25,607.81 L875.07,607.81 L874.84,607.81 L874.54,607.81 L874.18,607.82 L873.74,607.82 L873.23,607.83 L872.64,607.84 L871.96,607.85 L871.20,607.86 L870.36,607.87 L869.42,607.88 L868.40,607.89 L867.29,607.91 L866.09,607.93 L864.81,607.95 L863.45,607.97 L862.00,607.99 L860.48,608.02 L858.89,608.04 L857.23,608.07 L855.51,608.10 L853.72,608.13 L851.89,608.17 L850.00,608.20 L848.08,608.24 L846.11,608.28 L844.11,608.32 L842.08,608.37 L840.02,608.41 L837.95,608.46 L835.86,608.51 L833.75,608.56 L831.64,608.61 L829.52,608.67 L827.40,608.73 L825.28,608.78 L823.15,608.84 L821.03,608.91 L818.92,608.97 L816.81,609.04 L814.71,609.10 L812.61,609.17 L810.52,609.24 L808.44,609.32 L806.37,609.39 L804.30,609.47 L802.24,609.55 L800.18,609.63 L798.13,609.72 L796.08,609.80 L794.03,609.89 L791.98,609.98 L789.93,610.08 L787.88,610.17 L785.82,610.27 L783.76,610.37 L781.69,610.48 L779.60,610.59 L777.51,610.70 L775.40,610.82 L773.27,610.93 L771.13,611.06 L768.96,611.18 L766.77,611.31 L764.56,611.44 L762.32,611.58 L760.05,611.72 L757.75,611.87 L755.42,612.02 L753.05,612.17 L750.65,612.33 L748.22,612.49 L745.74,612.65 L743.24,612.83 L740.69,613.00 L738.11,613.18 L735.48,613.36 L732.82,613.55 L730.11,613.74 L727.37,613.94 L724.58,614.14 L721.75,614.34 L718.87,614.55 L715.95,614.77 L712.99,614.99 L709.98,615.21 L706.92,615.44 L703.82,615.67 L700.68,615.90 L697.50,616.14 L694.27,616.39 L690.99,616.64 L687.68,616.89 L684.32,617.15 L680.93,617.41 L677.49,617.67 L674.02,617.94 L670.51,618.21 L666.97,618.48 L663.39,618.76 L659.78,619.04 L656.14,619.32 L652.47,619.61 L648.78,619.90 L645.06,620.19 L641.32,620.48 L637.56,620.78 L633.79,621.07 L630.00,621.37 L626.19,621.67 L622.38,621.97 L618.56,622.27 L614.73,622.57 L610.90,622.87 L607.07,623.17 L603.24,623.47 L599.42,623.77 L595.61,624.07 L591.80,624.37 L588.01,624.67 L584.24,624.96 L580.48,625.26 L576.74,625.55 L573.02,625.84 L569.33,626.13 L565.66,626.41 L562.02,626.70 L558.41,626.98 L554.83,627.25 L551.29,627.53 L547.78,627.80 L544.31,628.07 L540.87,628.33 L537.48,628.59 L534.12,628.85 L530.81,629.10 L527.53,629.35 L524.30,629.59 L521.12,629.83 L517.98,630.07 L514.88,630.30 L511.82,630.53 L508.81,630.75 L505.85,630.97 L502.93,631.18 L500.05,631.39 L497.22,631.60 L494.43,631.80 L491.69,632.00 L488.98,632.19 L486.32,632.37 L483.69,632.56 L481.11,632.74 L478.57,632.91 L476.06,633.08 L473.58,633.25 L471.15,633.41 L468.75,633.57 L466.38,633.72 L464.05,633.87 L461.75,634.02 L459.48,634.16 L457.24,634.29 L455.03,634.43 L452.84,634.56 L450.67,634.68 L448.53,634.80 L446.40,634.92 L444.29,635.04 L442.20,635.15 L440.11,635.26 L438.04,635.36 L435.98,635.46 L433.92,635.56 L431.87,635.66 L429.82,635.76 L427.77,635.85 L425.72,635.94 L423.67,636.02 L421.62,636.11 L419.56,636.19 L417.50,636.27 L415.43,636.35 L413.36,636.42 L411.28,636.49 L409.19,636.57 L407.09,636.63 L404.99,636.70 L402.88,636.77 L400.77,636.83 L398.65,636.89 L396.52,636.95 L394.40,637.01 L392.28,637.07 L390.16,637.12 L388.05,637.18 L385.94,637.23 L383.85,637.28 L381.78,637.32 L379.72,637.37 L377.69,637.41 L375.69,637.45 L373.72,637.49 L371.80,637.53 L369.91,637.57 L368.08,637.60 L366.29,637.64 L364.57,637.67 L362.91,637.69 L361.32,637.72 L359.80,637.75 L358.35,637.77 L356.99,637.79 L355.71,637.81 L354.51,637.83 L353.40,637.84 L352.38,637.86 L351.44,637.87 L350.60,637.88 L349.84,637.89 L349.16,637.90 L348.57,637.91 L348.06,637.91 L347.62,637.92 L347.26,637.92 L346.96,637.93 L346.73,637.93 L346.55,637.93 L346.42,637.93 L346.33,637.93 L346.27,637.93 L346.24,637.93 L346.23,637.93 L346.23,637.93Z" fill="#EFE731" fill-opacity="0.5"/>
<path d="M346.23,637.33 L346.23,637.33 L346.24,637.33 L346.27,637.34 L346.33,637.34 L346.42,637.35 L346.55,637.36 L346.73,637.37 L346.96,637.39 L347.26,637.41 L347.62,637.44 L348.06,637.48 L348.57,637.53 L349.16,637.58 L349.84,637.64 L350.60,637.71 L351.44,637.79 L352.38,637.88 L353.40,637.99 L354.51,638.10 L355.71,638.23 L356.99,638.37 L358.35,638.52 L359.80,638.68 L361.32,638.86 L362.91,639.05 L364.57,639.26 L366.29,639.48 L368.08,639.71 L369.91,639.95 L371.80,640.21 L373.72,640.49 L375.69,640.77 L377.69,641.07 L379.72,641.39 L381.78,641.71 L383.85,642.06 L385.94,642.41 L388.05,642.77 L390.16,643.15 L392.28,643.55 L394.40,643.95 L396.52,644.37 L398.65,644.80 L400.77,645.25 L402.88,645.70 L404.99,646.17 L407.09,646.66 L409.19,647.16 L411.28,647.67 L413.36,648.20 L415.43,648.74 L417.50,649.29 L419.56,649.87 L421.62,650.45 L423.67,651.06 L425.72,651.68 L427.77,652.32 L429.82,652.97 L431.87,653.65 L433.92,654.34 L435.98,655.06 L438.04,655.79 L440.11,656.55 L442.20,657.33 L444.29,658.13 L446.40,658.96 L448.53,659.81 L450.67,660.68 L452.84,661.58 L455.03,662.51 L457.24,663.47 L459.48,664.45 L461.75,665.46 L464.05,666.51 L466.38,667.58 L468.75,668.68 L471.15,669.81 L473.58,670.98 L476.06,672.17 L478.57,673.39 L481.11,674.65 L483.69,675.93 L486.32,677.25 L488.98,678.60 L491.69,679.97 L494.43,681.38 L497.22,682.83 L500.05,684.30 L502.93,685.81 L505.85,687.34 L508.81,688.91 L511.82,690.51 L514.88,692.15 L517.98,693.81 L521.12,695.50 L524.30,697.23 L527.53,698.98 L530.81,700.77 L534.12,702.58 L537.48,704.42 L540.87,706.29 L544.31,708.19 L547.78,710.11 L551.29,712.05 L554.83,714.02 L558.41,716.02 L562.02,718.03 L565.66,720.06 L569.33,722.12 L573.02,724.19 L576.74,726.27 L580.48,728.37 L584.24,730.49 L588.01,732.61 L591.80,734.75 L595.61,736.89 L599.42,739.04 L603.24,741.19 L607.07,743.35 L610.90,745.51 L614.73,747.67 L618.56,749.83 L622.38,751.99 L626.19,754.14 L630.00,756.28 L633.79,758.42 L637.56,760.54 L641.32,762.66 L645.06,764.76 L648.78,766.84 L652.47,768.91 L656.14,770.96 L659.78,773.00 L663.39,775.01 L666.97,777.00 L670.51,778.97 L674.02,780.92 L677.49,782.84 L680.93,784.74 L684.32,786.60 L687.68,788.45 L690.99,790.26 L694.27,792.04 L697.50,793.80 L700.68,795.52 L703.82,797.22 L706.92,798.88 L709.98,800.51 L712.99,802.12 L715.95,803.68 L718.87,805.22 L721.75,806.73 L724.58,808.20 L727.37,809.64 L730.11,811.05 L732.82,812.43 L735.48,813.78 L738.11,815.09 L740.69,816.38 L743.24,817.63 L745.74,818.86 L748.22,820.05 L750.65,821.22 L753.05,822.35 L755.42,823.45 L757.75,824.52 L760.05,825.56 L762.32,826.58 L764.56,827.56 L766.77,828.52 L768.96,829.44 L771.13,830.34 L773.27,831.22 L775.40,832.07 L777.51,832.90 L779.60,833.70 L781.69,834.48 L783.76,835.23 L785.82,835.97 L787.88,836.68 L789.93,837.38 L791.98,838.05 L794.03,838.71 L796.08,839.35 L798.13,839.97 L800.18,840.57 L802.24,841.16 L804.30,841.73 L806.37,842.29 L808.44,842.83 L810.52,843.36 L812.61,843.87 L814.71,844.37 L816.81,844.85 L818.92,845.32 L821.03,845.78 L823.15,846.23 L825.28,846.66 L827.40,847.08 L829.52,847.48 L831.64,847.87 L833.75,848.25 L835.86,848.62 L837.95,848.97 L840.02,849.31 L842.08,849.64 L844.11,849.95 L846.11,850.25 L848.08,850.54 L850.00,850.81 L851.89,851.07 L853.72,851.32 L855.51,851.55 L857.23,851.77 L858.89,851.98 L860.48,852.17 L862.00,852.34 L863.45,852.51 L864.81,852.66 L866.09,852.80 L867.29,852.93 L868.40,853.04 L869.42,853.14 L870.36,853.24 L871.20,853.32 L871.96,853.39 L872.64,853.45 L873.23,853.50 L873.74,853.55 L874.18,853.58 L874.54,853.61 L874.84,853.64 L875.07,853.66 L875.25,853.67 L875.38,853.68 L875.47,853.69 L875.53,853.69 L875.56,853.69 L875.57,853.69 L875.57,853.69 L875.57,892.06 L875.57,892.06 L875.56,892.06 L875.53,892.06 L875.47,892.05 L875.38,892.04 L875.25,892.03 L875.07,892.02 L874.84,892.00 L874.54,891.98 L874.18,891.95 L873.74,891.91 L873.23,891.87 L872.64,891.81 L871.96,891.75 L871.20,891.68 L870.36,891.60 L869.42,891.51 L868.40,891.41 L867.29,891.29 L866.09,891.16 L864.81,891.03 L863.45,890.87 L862.00,890.71 L860.48,890.53 L858.89,890.34 L857.23,890.13 L855.51,889.92 L853.72,889.68 L851.89,889.44 L850.00,889.18 L848.08,888.90 L846.11,888.62 L844.11,888.32 L842.08,888.00 L840.02,887.68 L837.95,887.34 L835.86,886.98 L833.75,886.62 L831.64,886.24 L829.52,885.85 L827.40,885.44 L825.28,885.02 L823.15,884.59 L821.03,884.15 L818.92,883.69 L816.81,883.22 L814.71,882.73 L812.61,882.23 L810.52,881.72 L808.44,881.20 L806.37,880.65 L804.30,880.10 L802.24,879.53 L800.18,878.94 L798.13,878.33 L796.08,877.71 L794.03,877.07 L791.98,876.42 L789.93,875.74 L787.88,875.05 L785.82,874.33 L783.76,873.60 L781.69,872.84 L779.60,872.06 L777.51,871.26 L775.40,870.43 L773.27,869.58 L771.13,868.71 L768.96,867.81 L766.77,866.88 L764.56,865.92 L762.32,864.94 L760.05,863.93 L757.75,862.89 L755.42,861.81 L753.05,860.71 L750.65,859.58 L748.22,858.42 L745.74,857.22 L743.24,856.00 L740.69,854.74 L738.11,853.46 L735.48,852.14 L732.82,850.80 L730.11,849.42 L727.37,848.01 L724.58,846.57 L721.75,845.09 L718.87,843.59 L715.95,842.05 L712.99,840.48 L709.98,838.88 L706.92,837.25 L703.82,835.58 L700.68,833.89 L697.50,832.16 L694.27,830.41 L690.99,828.62 L687.68,826.81 L684.32,824.97 L680.93,823.10 L677.49,821.20 L674.02,819.28 L670.51,817.34 L666.97,815.37 L663.39,813.38 L659.78,811.36 L656.14,809.33 L652.47,807.28 L648.78,805.21 L645.06,803.12 L641.32,801.02 L637.56,798.91 L633.79,796.78 L630.00,794.65 L626.19,792.50 L622.38,790.35 L618.56,788.20 L614.73,786.04 L610.90,783.88 L607.07,781.72 L603.24,779.56 L599.42,777.40 L595.61,775.25 L591.80,773.11 L588.01,770.97 L584.24,768.85 L580.48,766.74 L576.74,764.64 L573.02,762.55 L569.33,760.48 L565.66,758.43 L562.02,756.39 L558.41,754.38 L554.83,752.39 L551.29,750.42 L547.78,748.47 L544.31,746.55 L540.87,744.66 L537.48,742.79 L534.12,740.95 L530.81,739.13 L527.53,737.35 L524.30,735.59 L521.12,733.87 L517.98,732.17 L514.88,730.51 L511.82,728.88 L508.81,727.28 L505.85,725.71 L502.93,724.17 L500.05,722.66 L497.22,721.19 L494.43,719.75 L491.69,718.34 L488.98,716.96 L486.32,715.61 L483.69,714.30 L481.11,713.01 L478.57,711.76 L476.06,710.53 L473.58,709.34 L471.15,708.18 L468.75,707.04 L466.38,705.94 L464.05,704.87 L461.75,703.83 L459.48,702.82 L457.24,701.83 L455.03,700.88 L452.84,699.95 L450.67,699.05 L448.53,698.17 L446.40,697.32 L444.29,696.50 L442.20,695.69 L440.11,694.92 L438.04,694.16 L435.98,693.42 L433.92,692.71 L431.87,692.01 L429.82,691.34 L427.77,690.68 L425.72,690.04 L423.67,689.42 L421.62,688.82 L419.56,688.23 L417.50,687.66 L415.43,687.10 L413.36,686.56 L411.28,686.03 L409.19,685.52 L407.09,685.02 L404.99,684.54 L402.88,684.07 L400.77,683.61 L398.65,683.17 L396.52,682.73 L394.40,682.32 L392.28,681.91 L390.16,681.52 L388.05,681.14 L385.94,680.77 L383.85,680.42 L381.78,680.08 L379.72,679.75 L377.69,679.44 L375.69,679.14 L373.72,678.85 L371.80,678.58 L369.91,678.32 L368.08,678.07 L366.29,677.84 L364.57,677.62 L362.91,677.42 L361.32,677.22 L359.80,677.05 L358.35,676.88 L356.99,676.73 L355.71,676.59 L354.51,676.46 L353.40,676.35 L352.38,676.25 L351.44,676.16 L350.60,676.07 L349.84,676.00 L349.16,675.94 L348.57,675.89 L348.06,675.84 L347.62,675.81 L347.26,675.78 L346.96,675.75 L346.73,675.73 L346.55,675.72 L346.42,675.71 L346.33,675.70 L346.27,675.70 L346.24,675.70 L346.23,675.70 L346.23,675.70Z" fill="#EFE731" fill-opacity="0.5"/>
<path d="M346.23,675.10 L346.23,675.10 L346.24,675.10 L346.27,675.10 L346.33,675.10 L346.42,675.09 L346.55,675.09 L346.73,675.09 L346.96,675.08 L347.26,675.07 L347.62,675.06 L348.06,675.05 L348.57,675.04 L349.16,675.02 L349.84,675.00 L350.60,674.98 L351.44,674.95 L352.38,674.93 L353.40,674.89 L354.51,674.86 L355.71,674.82 L356.99,674.77 L358.35,674.73 L359.80,674.67 L361.32,674.62 L362.91,674.56 L364.57,674.49 L366.29,674.43 L368.08,674.35 L369.91,674.28 L371.80,674.19 L373.72,674.11 L375.69,674.02 L377.69,673.92 L379.72,673.83 L381.78,673.72 L383.85,673.62 L385.94,673.51 L388.05,673.39 L390.16,673.27 L392.28,673.15 L394.40,673.02 L396.52,672.89 L398.65,672.75 L400.77,672.61 L402.88,672.47 L404.99,672.32 L407.09,672.17 L409.19,672.01 L411.28,671.85 L413.36,671.69 L415.43,671.52 L417.50,671.34 L419.56,671.16 L421.62,670.98 L423.67,670.79 L425.72,670.60 L427.77,670.40 L429.82,670.19 L431.87,669.98 L433.92,669.76 L435.98,669.54 L438.04,669.30 L440.11,669.07 L442.20,668.82 L444.29,668.57 L446.40,668.31 L448.53,668.05 L450.67,667.77 L452.84,667.49 L455.03,667.20 L457.24,666.90 L459.48,666.59 L461.75,666.27 L464.05,665.94 L466.38,665.61 L468.75,665.26 L471.15,664.91 L473.58,664.54 L476.06,664.17 L478.57,663.78 L481.11,663.39 L483.69,662.99 L486.32,662.57 L488.98,662.15 L491.69,661.72 L494.43,661.27 L497.22,660.82 L500.05,660.36 L502.93,659.89 L505.85,659.40 L508.81,658.91 L511.82,658.41 L514.88,657.90 L517.98,657.38 L521.12,656.84 L524.30,656.30 L527.53,655.75 L530.81,655.19 L534.12,654.62 L537.48,654.04 L540.87,653.46 L544.31,652.86 L547.78,652.26 L551.29,651.65 L554.83,651.03 L558.41,650.41 L562.02,649.78 L565.66,649.14 L569.33,648.49 L573.02,647.84 L576.74,647.19 L580.48,646.53 L584.24,645.87 L588.01,645.20 L591.80,644.53 L595.61,643.86 L599.42,643.18 L603.24,642.51 L607.07,641.83 L610.90,641.15 L614.73,640.47 L618.56,639.80 L622.38,639.12 L626.19,638.44 L630.00,637.77 L633.79,637.10 L637.56,636.43 L641.32,635.77 L645.06,635.11 L648.78,634.46 L652.47,633.81 L656.14,633.16 L659.78,632.53 L663.39,631.89 L666.97,631.27 L670.51,630.65 L674.02,630.04 L677.49,629.44 L680.93,628.84 L684.32,628.26 L687.68,627.68 L690.99,627.11 L694.27,626.55 L697.50,626.00 L700.68,625.46 L703.82,624.93 L706.92,624.40 L709.98,623.89 L712.99,623.39 L715.95,622.90 L718.87,622.41 L721.75,621.94 L724.58,621.48 L727.37,621.03 L730.11,620.58 L732.82,620.15 L735.48,619.73 L738.11,619.32 L740.69,618.91 L743.24,618.52 L745.74,618.14 L748.22,617.76 L750.65,617.40 L753.05,617.04 L755.42,616.69 L757.75,616.36 L760.05,616.03 L762.32,615.71 L764.56,615.40 L766.77,615.10 L768.96,614.81 L771.13,614.53 L773.27,614.26 L775.40,613.99 L777.51,613.73 L779.60,613.48 L781.69,613.23 L783.76,613.00 L785.82,612.77 L787.88,612.54 L789.93,612.32 L791.98,612.11 L794.03,611.91 L796.08,611.71 L798.13,611.51 L800.18,611.32 L802.24,611.14 L804.30,610.96 L806.37,610.78 L808.44,610.61 L810.52,610.45 L812.61,610.29 L814.71,610.13 L816.81,609.98 L818.92,609.83 L821.03,609.69 L823.15,609.55 L825.28,609.41 L827.40,609.28 L829.52,609.15 L831.64,609.03 L833.75,608.91 L835.86,608.80 L837.95,608.69 L840.02,608.58 L842.08,608.48 L844.11,608.38 L846.11,608.28 L848.08,608.19 L850.00,608.11 L851.89,608.03 L853.72,607.95 L855.51,607.88 L857.23,607.81 L858.89,607.74 L860.48,607.68 L862.00,607.63 L863.45,607.58 L864.81,607.53 L866.09,607.48 L867.29,607.44 L868.40,607.41 L869.42,607.38 L870.36,607.35 L871.20,607.32 L871.96,607.30 L872.64,607.28 L873.23,607.26 L873.74,607.25 L874.18,607.24 L874.54,607.23 L874.84,607.22 L875.07,607.22 L875.25,607.21 L875.38,607.21 L875.47,607.21 L875.53,607.20 L875.56,607.20 L875.57,607.20 L875.57,607.20 L875.57,699.83 L875.57,699.83 L875.56,699.83 L875.53,699.83 L875.47,699.83 L875.38,699.83 L875.25,699.84 L875.07,699.84 L874.84,699.85 L874.54,699.85 L874.18,699.86 L873.74,699.87 L873.23,699.89 L872.64,699.91 L871.96,699.92 L871.20,699.95 L870.36,699.97 L869.42,700.00 L868.40,700.03 L867.29,700.07 L866.09,700.11 L864.81,700.15 L863.45,700.20 L862.00,700.25 L860.48,700.31 L858.89,700.37 L857.23,700.43 L855.51,700.50 L853.72,700.57 L851.89,700.65 L850.00,700.73 L848.08,700.82 L846.11,700.91 L844.11,701.00 L842.08,701.10 L840.02,701.20 L837.95,701.31 L835.86,701.42 L833.75,701.54 L831.64,701.66 L829.52,701.78 L827.40,701.91 L825.28,702.04 L823.15,702.17 L821.03,702.31 L818.92,702.46 L816.81,702.60 L814.71,702.75 L812.61,702.91 L810.52,703.07 L808.44,703.24 L806.37,703.41 L804.30,703.58 L802.24,703.76 L800.18,703.95 L798.13,704.14 L796.08,704.33 L794.03,704.53 L791.98,704.74 L789.93,704.95 L787.88,705.17 L785.82,705.39 L783.76,705.62 L781.69,705.86 L779.60,706.10 L777.51,706.36 L775.40,706.61 L773.27,706.88 L771.13,707.16 L768.96,707.44 L766.77,707.73 L764.56,708.03 L762.32,708.34 L760.05,708.66 L757.75,708.98 L755.42,709.32 L753.05,709.66 L750.65,710.02 L748.22,710.39 L745.74,710.76 L743.24,711.14 L740.69,711.54 L738.11,711.94 L735.48,712.35 L732.82,712.78 L730.11,713.21 L727.37,713.65 L724.58,714.10 L721.75,714.57 L718.87,715.04 L715.95,715.52 L712.99,716.01 L709.98,716.52 L706.92,717.03 L703.82,717.55 L700.68,718.08 L697.50,718.62 L694.27,719.17 L690.99,719.73 L687.68,720.30 L684.32,720.88 L680.93,721.47 L677.49,722.06 L674.02,722.67 L670.51,723.28 L666.97,723.89 L663.39,724.52 L659.78,725.15 L656.14,725.79 L652.47,726.43 L648.78,727.08 L645.06,727.74 L641.32,728.40 L637.56,729.06 L633.79,729.73 L630.00,730.40 L626.19,731.07 L622.38,731.74 L618.56,732.42 L614.73,733.10 L610.90,733.78 L607.07,734.45 L603.24,735.13 L599.42,735.81 L595.61,736.48 L591.80,737.15 L588.01,737.82 L584.24,738.49 L580.48,739.15 L576.74,739.81 L573.02,740.47 L569.33,741.12 L565.66,741.76 L562.02,742.40 L558.41,743.03 L554.83,743.66 L551.29,744.27 L547.78,744.89 L544.31,745.49 L540.87,746.08 L537.48,746.67 L534.12,747.25 L530.81,747.82 L527.53,748.38 L524.30,748.93 L521.12,749.47 L517.98,750.00 L514.88,750.52 L511.82,751.03 L508.81,751.54 L505.85,752.03 L502.93,752.51 L500.05,752.98 L497.22,753.45 L494.43,753.90 L491.69,754.34 L488.98,754.77 L486.32,755.20 L483.69,755.61 L481.11,756.01 L478.57,756.41 L476.06,756.79 L473.58,757.17 L471.15,757.53 L468.75,757.89 L466.38,758.23 L464.05,758.57 L461.75,758.90 L459.48,759.21 L457.24,759.52 L455.03,759.82 L452.84,760.11 L450.67,760.40 L448.53,760.67 L446.40,760.94 L444.29,761.20 L442.20,761.45 L440.11,761.69 L438.04,761.93 L435.98,762.16 L433.92,762.38 L431.87,762.60 L429.82,762.81 L427.77,763.02 L425.72,763.22 L423.67,763.42 L421.62,763.61 L419.56,763.79 L417.50,763.97 L415.43,764.14 L413.36,764.31 L411.28,764.48 L409.19,764.64 L407.09,764.80 L404.99,764.95 L402.88,765.10 L400.77,765.24 L398.65,765.38 L396.52,765.51 L394.40,765.65 L392.28,765.77 L390.16,765.90 L388.05,766.01 L385.94,766.13 L383.85,766.24 L381.78,766.35 L379.72,766.45 L377.69,766.55 L375.69,766.64 L373.72,766.73 L371.80,766.82 L369.91,766.90 L368.08,766.98 L366.29,767.05 L364.57,767.12 L362.91,767.18 L361.32,767.24 L359.80,767.30 L358.35,767.35 L356.99,767.40 L355.71,767.44 L354.51,767.48 L353.40,767.52 L352.38,767.55 L351.44,767.58 L350.60,767.60 L349.84,767.63 L349.16,767.65 L348.57,767.66 L348.06,767.68 L347.62,767.69 L347.26,767.70 L346.96,767.70 L346.73,767.71 L346.55,767.72 L346.42,767.72 L346.33,767.72 L346.27,767.72 L346.24,767.72 L346.23,767.72 L346.23,767.72Z" fill="#4A57AA" fill-opacity="0.62"/>
<path d="M346.23,767.12 L346.23,767.12 L346.24,767.12 L346.27,767.12 L346.33,767.13 L346.42,767.13 L346.55,767.14 L346.73,767.14 L346.96,767.15 L347.26,767.17 L347.62,767.19 L348.06,767.21 L348.57,767.23 L349.16,767.26 L349.84,767.30 L350.60,767.34 L351.44,767.39 L352.38,767.44 L353.40,767.50 L354.51,767.57 L355.71,767.64 L356.99,767.72 L358.35,767.81 L359.80,767.90 L361.32,768.01 L362.91,768.12 L364.57,768.24 L366.29,768.36 L368.08,768.50 L369.91,768.64 L371.80,768.79 L373.72,768.95 L375.69,769.12 L377.69,769.29 L379.72,769.47 L381.78,769.66 L383.85,769.86 L385.94,770.06 L388.05,770.28 L390.16,770.50 L392.28,770.72 L394.40,770.96 L396.52,771.20 L398.65,771.45 L400.77,771.71 L402.88,771.97 L404.99,772.25 L407.09,772.53 L409.19,772.82 L411.28,773.11 L413.36,773.42 L415.43,773.73 L417.50,774.06 L419.56,774.39 L421.62,774.73 L423.67,775.08 L425.72,775.44 L427.77,775.81 L429.82,776.19 L431.87,776.58 L433.92,776.98 L435.98,777.40 L438.04,777.82 L440.11,778.26 L442.20,778.71 L444.29,779.18 L446.40,779.66 L448.53,780.15 L450.67,780.66 L452.84,781.18 L455.03,781.72 L457.24,782.27 L459.48,782.84 L461.75,783.43 L464.05,784.03 L466.38,784.66 L468.75,785.29 L471.15,785.95 L473.58,786.62 L476.06,787.32 L478.57,788.03 L481.11,788.75 L483.69,789.50 L486.32,790.26 L488.98,791.04 L491.69,791.84 L494.43,792.66 L497.22,793.50 L500.05,794.35 L502.93,795.22 L505.85,796.11 L508.81,797.02 L511.82,797.95 L514.88,798.90 L517.98,799.86 L521.12,800.84 L524.30,801.84 L527.53,802.86 L530.81,803.90 L534.12,804.95 L537.48,806.02 L540.87,807.10 L544.31,808.20 L547.78,809.31 L551.29,810.44 L554.83,811.58 L558.41,812.74 L562.02,813.90 L565.66,815.08 L569.33,816.27 L573.02,817.47 L576.74,818.68 L580.48,819.90 L584.24,821.12 L588.01,822.36 L591.80,823.59 L595.61,824.84 L599.42,826.08 L603.24,827.33 L607.07,828.58 L610.90,829.84 L614.73,831.09 L618.56,832.34 L622.38,833.59 L626.19,834.84 L630.00,836.08 L633.79,837.32 L637.56,838.55 L641.32,839.77 L645.06,840.99 L648.78,842.20 L652.47,843.40 L656.14,844.59 L659.78,845.77 L663.39,846.94 L666.97,848.09 L670.51,849.23 L674.02,850.36 L677.49,851.47 L680.93,852.57 L684.32,853.66 L687.68,854.72 L690.99,855.77 L694.27,856.81 L697.50,857.83 L700.68,858.83 L703.82,859.81 L706.92,860.77 L709.98,861.72 L712.99,862.65 L715.95,863.56 L718.87,864.45 L721.75,865.32 L724.58,866.18 L727.37,867.01 L730.11,867.83 L732.82,868.63 L735.48,869.41 L738.11,870.17 L740.69,870.92 L743.24,871.64 L745.74,872.35 L748.22,873.05 L750.65,873.72 L753.05,874.38 L755.42,875.02 L757.75,875.64 L760.05,876.24 L762.32,876.83 L764.56,877.40 L766.77,877.95 L768.96,878.49 L771.13,879.01 L773.27,879.52 L775.40,880.01 L777.51,880.49 L779.60,880.96 L781.69,881.41 L783.76,881.85 L785.82,882.27 L787.88,882.69 L789.93,883.09 L791.98,883.48 L794.03,883.86 L796.08,884.23 L798.13,884.59 L800.18,884.94 L802.24,885.28 L804.30,885.61 L806.37,885.94 L808.44,886.25 L810.52,886.56 L812.61,886.85 L814.71,887.14 L816.81,887.42 L818.92,887.70 L821.03,887.96 L823.15,888.22 L825.28,888.47 L827.40,888.71 L829.52,888.95 L831.64,889.17 L833.75,889.39 L835.86,889.61 L837.95,889.81 L840.02,890.01 L842.08,890.20 L844.11,890.38 L846.11,890.55 L848.08,890.72 L850.00,890.88 L851.89,891.03 L853.72,891.17 L855.51,891.31 L857.23,891.43 L858.89,891.55 L860.48,891.66 L862.00,891.77 L863.45,891.86 L864.81,891.95 L866.09,892.03 L867.29,892.10 L868.40,892.17 L869.42,892.23 L870.36,892.28 L871.20,892.33 L871.96,892.37 L872.64,892.41 L873.23,892.44 L873.74,892.46 L874.18,892.48 L874.54,892.50 L874.84,892.52 L875.07,892.53 L875.25,892.54 L875.38,892.54 L875.47,892.54 L875.53,892.55 L875.56,892.55 L875.57,892.55 L875.57,892.55 L875.57,948.50 L875.57,948.50 L875.56,948.50 L875.53,948.50 L875.47,948.50 L875.38,948.49 L875.25,948.49 L875.07,948.48 L874.84,948.47 L874.54,948.45 L874.18,948.44 L873.74,948.41 L873.23,948.39 L872.64,948.36 L871.96,948.32 L871.20,948.28 L870.36,948.23 L869.42,948.18 L868.40,948.12 L867.29,948.06 L866.09,947.98 L864.81,947.90 L863.45,947.81 L862.00,947.72 L860.48,947.61 L858.89,947.50 L857.23,947.38 L855.51,947.26 L853.72,947.12 L851.89,946.98 L850.00,946.83 L848.08,946.67 L846.11,946.51 L844.11,946.33 L842.08,946.15 L840.02,945.96 L837.95,945.76 L835.86,945.56 L833.75,945.35 L831.64,945.13 L829.52,944.90 L827.40,944.66 L825.28,944.42 L823.15,944.17 L821.03,943.91 L818.92,943.65 L816.81,943.37 L814.71,943.09 L812.61,942.80 L810.52,942.51 L808.44,942.20 L806.37,941.89 L804.30,941.57 L802.24,941.23 L800.18,940.89 L798.13,940.54 L796.08,940.18 L794.03,939.81 L791.98,939.43 L789.93,939.04 L787.88,938.64 L785.82,938.22 L783.76,937.80 L781.69,937.36 L779.60,936.91 L777.51,936.44 L775.40,935.96 L773.27,935.47 L771.13,934.96 L768.96,934.44 L766.77,933.90 L764.56,933.35 L762.32,932.78 L760.05,932.19 L757.75,931.59 L755.42,930.97 L753.05,930.33 L750.65,929.67 L748.22,929.00 L745.74,928.31 L743.24,927.60 L740.69,926.87 L738.11,926.12 L735.48,925.36 L732.82,924.58 L730.11,923.78 L727.37,922.96 L724.58,922.13 L721.75,921.27 L718.87,920.40 L715.95,919.51 L712.99,918.60 L709.98,917.67 L706.92,916.72 L703.82,915.76 L700.68,914.78 L697.50,913.78 L694.27,912.76 L690.99,911.73 L687.68,910.67 L684.32,909.61 L680.93,908.52 L677.49,907.43 L674.02,906.31 L670.51,905.18 L666.97,904.04 L663.39,902.89 L659.78,901.72 L656.14,900.54 L652.47,899.35 L648.78,898.15 L645.06,896.94 L641.32,895.72 L637.56,894.50 L633.79,893.27 L630.00,892.03 L626.19,890.79 L622.38,889.54 L618.56,888.29 L614.73,887.04 L610.90,885.79 L607.07,884.53 L603.24,883.28 L599.42,882.03 L595.61,880.79 L591.80,879.54 L588.01,878.31 L584.24,877.07 L580.48,875.85 L576.74,874.63 L573.02,873.42 L569.33,872.22 L565.66,871.03 L562.02,869.85 L558.41,868.69 L554.83,867.53 L551.29,866.39 L547.78,865.26 L544.31,864.15 L540.87,863.05 L537.48,861.97 L534.12,860.90 L530.81,859.85 L527.53,858.81 L524.30,857.80 L521.12,856.80 L517.98,855.81 L514.88,854.85 L511.82,853.90 L508.81,852.97 L505.85,852.06 L502.93,851.17 L500.05,850.30 L497.22,849.45 L494.43,848.61 L491.69,847.79 L488.98,846.99 L486.32,846.21 L483.69,845.45 L481.11,844.71 L478.57,843.98 L476.06,843.27 L473.58,842.58 L471.15,841.90 L468.75,841.25 L466.38,840.61 L464.05,839.98 L461.75,839.38 L459.48,838.79 L457.24,838.22 L455.03,837.67 L452.84,837.13 L450.67,836.61 L448.53,836.10 L446.40,835.61 L444.29,835.13 L442.20,834.67 L440.11,834.21 L438.04,833.78 L435.98,833.35 L433.92,832.94 L431.87,832.53 L429.82,832.14 L427.77,831.76 L425.72,831.39 L423.67,831.03 L421.62,830.68 L419.56,830.34 L417.50,830.01 L415.43,829.68 L413.36,829.37 L411.28,829.07 L409.19,828.77 L407.09,828.48 L404.99,828.20 L402.88,827.93 L400.77,827.66 L398.65,827.40 L396.52,827.15 L394.40,826.91 L392.28,826.68 L390.16,826.45 L388.05,826.23 L385.94,826.02 L383.85,825.81 L381.78,825.61 L379.72,825.42 L377.69,825.24 L375.69,825.07 L373.72,824.90 L371.80,824.74 L369.91,824.59 L368.08,824.45 L366.29,824.32 L364.57,824.19 L362.91,824.07 L361.32,823.96 L359.80,823.86 L358.35,823.76 L356.99,823.67 L355.71,823.59 L354.51,823.52 L353.40,823.45 L352.38,823.39 L351.44,823.34 L350.60,823.29 L349.84,823.25 L349.16,823.22 L348.57,823.18 L348.06,823.16 L347.62,823.14 L347.26,823.12 L346.96,823.11 L346.73,823.10 L346.55,823.09 L346.42,823.08 L346.33,823.08 L346.27,823.08 L346.24,823.07 L346.23,823.07 L346.23,823.07Z" fill="#4A57AA" fill-opacity="0.62"/>
<path d="M346.23,822.47 L346.23,822.47 L346.24,822.47 L346.27,822.47 L346.33,822.47 L346.42,822.47 L346.55,822.46 L346.73,822.45 L346.96,822.44 L347.26,822.43 L347.62,822.41 L348.06,822.39 L348.57,822.36 L349.16,822.33 L349.84,822.30 L350.60,822.26 L351.44,822.21 L352.38,822.16 L353.40,822.10 L354.51,822.04 L355.71,821.96 L356.99,821.89 L358.35,821.80 L359.80,821.71 L361.32,821.60 L362.91,821.49 L364.57,821.38 L366.29,821.25 L368.08,821.12 L369.91,820.98 L371.80,820.83 L373.72,820.68 L375.69,820.51 L377.69,820.34 L379.72,820.16 L381.78,819.98 L383.85,819.78 L385.94,819.58 L388.05,819.37 L390.16,819.16 L392.28,818.93 L394.40,818.70 L396.52,818.47 L398.65,818.22 L400.77,817.97 L402.88,817.71 L404.99,817.44 L407.09,817.16 L409.19,816.88 L411.28,816.59 L413.36,816.29 L415.43,815.98 L417.50,815.66 L419.56,815.33 L421.62,815.00 L423.67,814.66 L425.72,814.30 L427.77,813.94 L429.82,813.56 L431.87,813.18 L433.92,812.78 L435.98,812.38 L438.04,811.96 L440.11,811.53 L442.20,811.08 L444.29,810.63 L446.40,810.16 L448.53,809.67 L450.67,809.17 L452.84,808.66 L455.03,808.13 L457.24,807.59 L459.48,807.03 L461.75,806.45 L464.05,805.86 L466.38,805.25 L468.75,804.62 L471.15,803.97 L473.58,803.31 L476.06,802.63 L478.57,801.93 L481.11,801.22 L483.69,800.49 L486.32,799.74 L488.98,798.97 L491.69,798.18 L494.43,797.38 L497.22,796.56 L500.05,795.72 L502.93,794.86 L505.85,793.99 L508.81,793.09 L511.82,792.18 L514.88,791.25 L517.98,790.30 L521.12,789.34 L524.30,788.36 L527.53,787.36 L530.81,786.34 L534.12,785.31 L537.48,784.26 L540.87,783.19 L544.31,782.11 L547.78,781.02 L551.29,779.91 L554.83,778.79 L558.41,777.65 L562.02,776.51 L565.66,775.35 L569.33,774.18 L573.02,773.00 L576.74,771.81 L580.48,770.62 L584.24,769.41 L588.01,768.20 L591.80,766.98 L595.61,765.76 L599.42,764.54 L603.24,763.31 L607.07,762.08 L610.90,760.85 L614.73,759.62 L618.56,758.39 L622.38,757.16 L626.19,755.94 L630.00,754.72 L633.79,753.50 L637.56,752.29 L641.32,751.09 L645.06,749.89 L648.78,748.70 L652.47,747.52 L656.14,746.35 L659.78,745.20 L663.39,744.05 L666.97,742.91 L670.51,741.79 L674.02,740.68 L677.49,739.59 L680.93,738.51 L684.32,737.44 L687.68,736.40 L690.99,735.36 L694.27,734.35 L697.50,733.35 L700.68,732.36 L703.82,731.40 L706.92,730.45 L709.98,729.52 L712.99,728.61 L715.95,727.72 L718.87,726.84 L721.75,725.98 L724.58,725.14 L727.37,724.32 L730.11,723.52 L732.82,722.73 L735.48,721.97 L738.11,721.22 L740.69,720.48 L743.24,719.77 L745.74,719.07 L748.22,718.39 L750.65,717.73 L753.05,717.08 L755.42,716.46 L757.75,715.85 L760.05,715.25 L762.32,714.68 L764.56,714.12 L766.77,713.57 L768.96,713.04 L771.13,712.53 L773.27,712.03 L775.40,711.55 L777.51,711.08 L779.60,710.62 L781.69,710.18 L783.76,709.74 L785.82,709.33 L787.88,708.92 L789.93,708.52 L791.98,708.14 L794.03,707.76 L796.08,707.40 L798.13,707.05 L800.18,706.70 L802.24,706.37 L804.30,706.04 L806.37,705.72 L808.44,705.42 L810.52,705.12 L812.61,704.82 L814.71,704.54 L816.81,704.26 L818.92,704.00 L821.03,703.74 L823.15,703.48 L825.28,703.24 L827.40,703.00 L829.52,702.77 L831.64,702.54 L833.75,702.33 L835.86,702.12 L837.95,701.92 L840.02,701.72 L842.08,701.54 L844.11,701.36 L846.11,701.19 L848.08,701.02 L850.00,700.87 L851.89,700.72 L853.72,700.58 L855.51,700.45 L857.23,700.32 L858.89,700.21 L860.48,700.10 L862.00,700.00 L863.45,699.90 L864.81,699.82 L866.09,699.74 L867.29,699.67 L868.40,699.60 L869.42,699.54 L870.36,699.49 L871.20,699.44 L871.96,699.40 L872.64,699.37 L873.23,699.34 L873.74,699.31 L874.18,699.29 L874.54,699.27 L874.84,699.26 L875.07,699.25 L875.25,699.24 L875.38,699.24 L875.47,699.23 L875.53,699.23 L875.56,699.23 L875.57,699.23 L875.57,699.23 L875.57,824.16 L875.57,824.16 L875.56,824.16 L875.53,824.17 L875.47,824.17 L875.38,824.17 L875.25,824.18 L875.07,824.19 L874.84,824.20 L874.54,824.21 L874.18,824.23 L873.74,824.25 L873.23,824.27 L872.64,824.30 L871.96,824.34 L871.20,824.38 L870.36,824.43 L869.42,824.48 L868.40,824.54 L867.29,824.60 L866.09,824.67 L864.81,824.75 L863.45,824.84 L862.00,824.93 L860.48,825.03 L858.89,825.14 L857.23,825.26 L855.51,825.38 L853.72,825.52 L851.89,825.66 L850.00,825.81 L848.08,825.96 L846.11,826.12 L844.11,826.30 L842.08,826.47 L840.02,826.66 L837.95,826.85 L835.86,827.06 L833.75,827.26 L831.64,827.48 L829.52,827.70 L827.40,827.93 L825.28,828.17 L823.15,828.42 L821.03,828.67 L818.92,828.93 L816.81,829.20 L814.71,829.48 L812.61,829.76 L810.52,830.05 L808.44,830.35 L806.37,830.66 L804.30,830.98 L802.24,831.30 L800.18,831.64 L798.13,831.98 L796.08,832.34 L794.03,832.70 L791.98,833.07 L789.93,833.46 L787.88,833.85 L785.82,834.26 L783.76,834.68 L781.69,835.11 L779.60,835.56 L777.51,836.01 L775.40,836.48 L773.27,836.97 L771.13,837.46 L768.96,837.98 L766.77,838.51 L764.56,839.05 L762.32,839.61 L760.05,840.19 L757.75,840.78 L755.42,841.39 L753.05,842.02 L750.65,842.66 L748.22,843.33 L745.74,844.01 L743.24,844.71 L740.69,845.42 L738.11,846.15 L735.48,846.90 L732.82,847.67 L730.11,848.45 L727.37,849.26 L724.58,850.08 L721.75,850.92 L718.87,851.78 L715.95,852.65 L712.99,853.55 L709.98,854.46 L706.92,855.39 L703.82,856.33 L700.68,857.30 L697.50,858.28 L694.27,859.28 L690.99,860.30 L687.68,861.33 L684.32,862.38 L680.93,863.45 L677.49,864.52 L674.02,865.62 L670.51,866.73 L666.97,867.85 L663.39,868.98 L659.78,870.13 L656.14,871.29 L652.47,872.46 L648.78,873.64 L645.06,874.83 L641.32,876.02 L637.56,877.23 L633.79,878.44 L630.00,879.65 L626.19,880.87 L622.38,882.10 L618.56,883.33 L614.73,884.56 L610.90,885.79 L607.07,887.02 L603.24,888.25 L599.42,889.47 L595.61,890.70 L591.80,891.92 L588.01,893.14 L584.24,894.35 L580.48,895.55 L576.74,896.75 L573.02,897.94 L569.33,899.12 L565.66,900.28 L562.02,901.44 L558.41,902.59 L554.83,903.72 L551.29,904.85 L547.78,905.95 L544.31,907.05 L540.87,908.13 L537.48,909.19 L534.12,910.24 L530.81,911.28 L527.53,912.29 L524.30,913.29 L521.12,914.27 L517.98,915.24 L514.88,916.19 L511.82,917.12 L508.81,918.03 L505.85,918.92 L502.93,919.80 L500.05,920.66 L497.22,921.50 L494.43,922.32 L491.69,923.12 L488.98,923.90 L486.32,924.67 L483.69,925.42 L481.11,926.15 L478.57,926.87 L476.06,927.57 L473.58,928.25 L471.15,928.91 L468.75,929.55 L466.38,930.18 L464.05,930.79 L461.75,931.39 L459.48,931.96 L457.24,932.52 L455.03,933.07 L452.84,933.60 L450.67,934.11 L448.53,934.61 L446.40,935.09 L444.29,935.56 L442.20,936.02 L440.11,936.46 L438.04,936.89 L435.98,937.31 L433.92,937.72 L431.87,938.11 L429.82,938.50 L427.77,938.87 L425.72,939.24 L423.67,939.59 L421.62,939.94 L419.56,940.27 L417.50,940.60 L415.43,940.91 L413.36,941.22 L411.28,941.52 L409.19,941.81 L407.09,942.10 L404.99,942.37 L402.88,942.64 L400.77,942.90 L398.65,943.16 L396.52,943.40 L394.40,943.64 L392.28,943.87 L390.16,944.09 L388.05,944.31 L385.94,944.52 L383.85,944.72 L381.78,944.91 L379.72,945.10 L377.69,945.28 L375.69,945.45 L373.72,945.61 L371.80,945.77 L369.91,945.92 L368.08,946.06 L366.29,946.19 L364.57,946.31 L362.91,946.43 L361.32,946.54 L359.80,946.64 L358.35,946.73 L356.99,946.82 L355.71,946.90 L354.51,946.97 L353.40,947.04 L352.38,947.10 L351.44,947.15 L350.60,947.19 L349.84,947.24 L349.16,947.27 L348.57,947.30 L348.06,947.33 L347.62,947.35 L347.26,947.36 L346.96,947.38 L346.73,947.39 L346.55,947.40 L346.42,947.40 L346.33,947.41 L346.27,947.41 L346.24,947.41 L346.23,947.41 L346.23,947.41Z" fill="#B7B7B7" fill-opacity="0.5"/>
<path d="M346.23,946.71 L346.23,946.71 L346.24,946.71 L346.27,946.71 L346.33,946.71 L346.42,946.71 L346.55,946.70 L346.73,946.70 L346.96,946.70 L347.26,946.69 L347.62,946.68 L348.06,946.67 L348.57,946.66 L349.16,946.65 L349.84,946.63 L350.60,946.61 L351.44,946.59 L352.38,946.57 L353.40,946.54 L354.51,946.51 L355.71,946.48 L356.99,946.45 L358.35,946.41 L359.80,946.36 L361.32,946.32 L362.91,946.27 L364.57,946.22 L366.29,946.16 L368.08,946.10 L369.91,946.04 L371.80,945.97 L373.72,945.90 L375.69,945.83 L377.69,945.75 L379.72,945.67 L381.78,945.59 L383.85,945.50 L385.94,945.41 L388.05,945.32 L390.16,945.22 L392.28,945.12 L394.40,945.02 L396.52,944.91 L398.65,944.80 L400.77,944.69 L402.88,944.57 L404.99,944.45 L407.09,944.32 L409.19,944.20 L411.28,944.06 L413.36,943.93 L415.43,943.79 L417.50,943.65 L419.56,943.50 L421.62,943.35 L423.67,943.20 L425.72,943.04 L427.77,942.88 L429.82,942.71 L431.87,942.54 L433.92,942.36 L435.98,942.17 L438.04,941.99 L440.11,941.79 L442.20,941.59 L444.29,941.39 L446.40,941.18 L448.53,940.96 L450.67,940.74 L452.84,940.51 L455.03,940.27 L457.24,940.02 L459.48,939.77 L461.75,939.51 L464.05,939.25 L466.38,938.97 L468.75,938.69 L471.15,938.40 L473.58,938.10 L476.06,937.80 L478.57,937.48 L481.11,937.16 L483.69,936.83 L486.32,936.50 L488.98,936.15 L491.69,935.80 L494.43,935.44 L497.22,935.07 L500.05,934.69 L502.93,934.31 L505.85,933.92 L508.81,933.51 L511.82,933.10 L514.88,932.69 L517.98,932.26 L521.12,931.83 L524.30,931.39 L527.53,930.94 L530.81,930.48 L534.12,930.02 L537.48,929.55 L540.87,929.07 L544.31,928.58 L547.78,928.09 L551.29,927.59 L554.83,927.09 L558.41,926.58 L562.02,926.06 L565.66,925.54 L569.33,925.02 L573.02,924.49 L576.74,923.96 L580.48,923.42 L584.24,922.88 L588.01,922.33 L591.80,921.79 L595.61,921.24 L599.42,920.69 L603.24,920.14 L607.07,919.59 L610.90,919.03 L614.73,918.48 L618.56,917.93 L622.38,917.38 L626.19,916.83 L630.00,916.28 L633.79,915.73 L637.56,915.19 L641.32,914.65 L645.06,914.11 L648.78,913.58 L652.47,913.05 L656.14,912.52 L659.78,912.00 L663.39,911.49 L666.97,910.98 L670.51,910.47 L674.02,909.98 L677.49,909.48 L680.93,909.00 L684.32,908.52 L687.68,908.05 L690.99,907.59 L694.27,907.13 L697.50,906.68 L700.68,906.24 L703.82,905.81 L706.92,905.38 L709.98,904.96 L712.99,904.55 L715.95,904.15 L718.87,903.76 L721.75,903.37 L724.58,903.00 L727.37,902.63 L730.11,902.27 L732.82,901.91 L735.48,901.57 L738.11,901.23 L740.69,900.90 L743.24,900.58 L745.74,900.27 L748.22,899.96 L750.65,899.67 L753.05,899.38 L755.42,899.10 L757.75,898.82 L760.05,898.55 L762.32,898.30 L764.56,898.04 L766.77,897.80 L768.96,897.56 L771.13,897.33 L773.27,897.11 L775.40,896.89 L777.51,896.68 L779.60,896.47 L781.69,896.27 L783.76,896.08 L785.82,895.89 L787.88,895.71 L789.93,895.53 L791.98,895.36 L794.03,895.19 L796.08,895.03 L798.13,894.87 L800.18,894.71 L802.24,894.56 L804.30,894.42 L806.37,894.28 L808.44,894.14 L810.52,894.00 L812.61,893.87 L814.71,893.74 L816.81,893.62 L818.92,893.50 L821.03,893.38 L823.15,893.27 L825.28,893.16 L827.40,893.05 L829.52,892.95 L831.64,892.85 L833.75,892.75 L835.86,892.66 L837.95,892.57 L840.02,892.48 L842.08,892.40 L844.11,892.32 L846.11,892.24 L848.08,892.16 L850.00,892.10 L851.89,892.03 L853.72,891.97 L855.51,891.91 L857.23,891.85 L858.89,891.80 L860.48,891.75 L862.00,891.70 L863.45,891.66 L864.81,891.62 L866.09,891.59 L867.29,891.55 L868.40,891.53 L869.42,891.50 L870.36,891.48 L871.20,891.45 L871.96,891.44 L872.64,891.42 L873.23,891.41 L873.74,891.40 L874.18,891.39 L874.54,891.38 L874.84,891.37 L875.07,891.37 L875.25,891.36 L875.38,891.36 L875.47,891.36 L875.53,891.36 L875.56,891.36 L875.57,891.36 L875.57,891.36 L875.57,893.25 L875.57,893.25 L875.56,893.25 L875.53,893.25 L875.47,893.25 L875.38,893.25 L875.25,893.25 L875.07,893.26 L874.84,893.26 L874.54,893.27 L874.18,893.28 L873.74,893.29 L873.23,893.30 L872.64,893.31 L871.96,893.33 L871.20,893.35 L870.36,893.37 L869.42,893.39 L868.40,893.42 L867.29,893.45 L866.09,893.48 L864.81,893.51 L863.45,893.55 L862.00,893.59 L860.48,893.64 L858.89,893.69 L857.23,893.74 L855.51,893.80 L853.72,893.86 L851.89,893.92 L850.00,893.99 L848.08,894.06 L846.11,894.13 L844.11,894.21 L842.08,894.29 L840.02,894.37 L837.95,894.46 L835.86,894.55 L833.75,894.64 L831.64,894.74 L829.52,894.84 L827.40,894.94 L825.28,895.05 L823.15,895.16 L821.03,895.27 L818.92,895.39 L816.81,895.51 L814.71,895.63 L812.61,895.76 L810.52,895.89 L808.44,896.03 L806.37,896.17 L804.30,896.31 L802.24,896.46 L800.18,896.61 L798.13,896.76 L796.08,896.92 L794.03,897.08 L791.98,897.25 L789.93,897.42 L787.88,897.60 L785.82,897.78 L783.76,897.97 L781.69,898.17 L779.60,898.36 L777.51,898.57 L775.40,898.78 L773.27,899.00 L771.13,899.22 L768.96,899.45 L766.77,899.69 L764.56,899.93 L762.32,900.19 L760.05,900.45 L757.75,900.71 L755.42,900.99 L753.05,901.27 L750.65,901.56 L748.22,901.86 L745.74,902.16 L743.24,902.47 L740.69,902.79 L738.11,903.12 L735.48,903.46 L732.82,903.81 L730.11,904.16 L727.37,904.52 L724.58,904.89 L721.75,905.26 L718.87,905.65 L715.95,906.04 L712.99,906.44 L709.98,906.85 L706.92,907.27 L703.82,907.70 L700.68,908.13 L697.50,908.57 L694.27,909.02 L690.99,909.48 L687.68,909.94 L684.32,910.41 L680.93,910.89 L677.49,911.38 L674.02,911.87 L670.51,912.36 L666.97,912.87 L663.39,913.38 L659.78,913.89 L656.14,914.41 L652.47,914.94 L648.78,915.47 L645.06,916.00 L641.32,916.54 L637.56,917.08 L633.79,917.62 L630.00,918.17 L626.19,918.72 L622.38,919.27 L618.56,919.82 L614.73,920.37 L610.90,920.92 L607.07,921.48 L603.24,922.03 L599.42,922.58 L595.61,923.13 L591.80,923.68 L588.01,924.23 L584.24,924.77 L580.48,925.31 L576.74,925.85 L573.02,926.38 L569.33,926.91 L565.66,927.44 L562.02,927.96 L558.41,928.47 L554.83,928.98 L551.29,929.48 L547.78,929.98 L544.31,930.47 L540.87,930.96 L537.48,931.44 L534.12,931.91 L530.81,932.37 L527.53,932.83 L524.30,933.28 L521.12,933.72 L517.98,934.15 L514.88,934.58 L511.82,935.00 L508.81,935.40 L505.85,935.81 L502.93,936.20 L500.05,936.58 L497.22,936.96 L494.43,937.33 L491.69,937.69 L488.98,938.04 L486.32,938.39 L483.69,938.73 L481.11,939.05 L478.57,939.37 L476.06,939.69 L473.58,939.99 L471.15,940.29 L468.75,940.58 L466.38,940.86 L464.05,941.14 L461.75,941.40 L459.48,941.66 L457.24,941.91 L455.03,942.16 L452.84,942.40 L450.67,942.63 L448.53,942.85 L446.40,943.07 L444.29,943.28 L442.20,943.48 L440.11,943.68 L438.04,943.88 L435.98,944.07 L433.92,944.25 L431.87,944.43 L429.82,944.60 L427.77,944.77 L425.72,944.93 L423.67,945.09 L421.62,945.24 L419.56,945.39 L417.50,945.54 L415.43,945.68 L413.36,945.82 L411.28,945.96 L409.19,946.09 L407.09,946.21 L404.99,946.34 L402.88,946.46 L400.77,946.58 L398.65,946.69 L396.52,946.80 L394.40,946.91 L392.28,947.01 L390.16,947.11 L388.05,947.21 L385.94,947.30 L383.85,947.39 L381.78,947.48 L379.72,947.56 L377.69,947.64 L375.69,947.72 L373.72,947.79 L371.80,947.86 L369.91,947.93 L368.08,947.99 L366.29,948.05 L364.57,948.11 L362.91,948.16 L361.32,948.21 L359.80,948.25 L358.35,948.30 L356.99,948.34 L355.71,948.37 L354.51,948.40 L353.40,948.43 L352.38,948.46 L351.44,948.48 L350.60,948.50 L349.84,948.52 L349.16,948.54 L348.57,948.55 L348.06,948.56 L347.62,948.57 L347.26,948.58 L346.96,948.59 L346.73,948.59 L346.55,948.59 L346.42,948.60 L346.33,948.60 L346.27,948.60 L346.24,948.60 L346.23,948.60 L346.23,948.60Z" fill="#B7B7B7" fill-opacity="0.5"/>
<rect x="81.57" y="124.75" width="264.66" height="152.56" fill="#fff" stroke="#000" stroke-width="2.7" stroke-linejoin="round"/>
<rect x="81.57" y="277.31" width="264.66" height="200.41" fill="#fff" stroke="#000" stroke-width="2.7" stroke-linejoin="round"/>
<rect x="81.57" y="477.71" width="264.66" height="197.68" fill="#fff" stroke="#000" stroke-width="2.7" stroke-linejoin="round"/>
<rect x="81.57" y="675.40" width="264.66" height="147.38" fill="#fff" stroke="#000" stroke-width="2.7" stroke-linejoin="round"/>
<rect x="81.57" y="822.77" width="264.66" height="125.43" fill="#fff" stroke="#000" stroke-width="2.7" stroke-linejoin="round"/>
<rect x="875.57" y="124.75" width="264.73" height="699.12" fill="#fff" stroke="#000" stroke-width="2.7" stroke-linejoin="round"/>
<rect x="875.57" y="823.86" width="264.73" height="68.98" fill="#fff" stroke="#000" stroke-width="2.7" stroke-linejoin="round"/>
<rect x="875.57" y="892.85" width="264.73" height="55.35" fill="#fff" stroke="#000" stroke-width="2.7" stroke-linejoin="round"/>
<path d="M81.5,83.8 L81.5,989.7 L1140.4,989.7" fill="none" stroke="#000" stroke-width="2.8" stroke-linejoin="round" stroke-linecap="butt"/>
<line x1="76.9" y1="948.20" x2="81.5" y2="948.20" stroke="#222" stroke-width="2.5" stroke-linecap="round"/>
<line x1="76.9" y1="675.53" x2="81.5" y2="675.53" stroke="#222" stroke-width="2.5" stroke-linecap="round"/>
<line x1="76.9" y1="402.87" x2="81.5" y2="402.87" stroke="#222" stroke-width="2.5" stroke-linecap="round"/>
<line x1="76.9" y1="130.20" x2="81.5" y2="130.20" stroke="#222" stroke-width="2.5" stroke-linecap="round"/>
<line x1="213.9" y1="989.7" x2="213.9" y2="995.4" stroke="#222" stroke-width="2.5" stroke-linecap="round"/>
<line x1="1007.9" y1="989.7" x2="1007.9" y2="995.4" stroke="#222" stroke-width="2.5" stroke-linecap="round"/>
<text x="81.66" y="31.70" font-size="28.80" font-weight="normal" fill="#000" stroke="#000" stroke-width="0.3" textLength="538.12" lengthAdjust="spacingAndGlyphs">Health Diaries − overview of all collected data points</text>
<text x="81.59" y="66.20" font-size="23.50" font-weight="normal" fill="#000" stroke="#000" stroke-width="0.25" textLength="387.92" lengthAdjust="spacingAndGlyphs">Observation Period: 15.05.2020−05.07.2020</text>
<text x="36.56" y="137.00" font-size="19.00" font-weight="normal" fill="#4d4d4d" stroke="#4d4d4d" stroke-width="0.3" textLength="35.80" lengthAdjust="spacingAndGlyphs">6000</text>
<text x="36.70" y="407.90" font-size="19.00" font-weight="normal" fill="#4d4d4d" stroke="#4d4d4d" stroke-width="0.3" textLength="35.70" lengthAdjust="spacingAndGlyphs">4000</text>
<text x="36.73" y="681.50" font-size="19.00" font-weight="normal" fill="#4d4d4d" stroke="#4d4d4d" stroke-width="0.3" textLength="35.62" lengthAdjust="spacingAndGlyphs">2000</text>
<text x="63.92" y="954.70" font-size="19.00" font-weight="normal" fill="#4d4d4d" stroke="#4d4d4d" stroke-width="0.3" textLength="8.55" lengthAdjust="spacingAndGlyphs">0</text>
<text x="197.35" y="1012.90" font-size="17.40" font-weight="normal" fill="#4d4d4d" stroke="#4d4d4d" stroke-width="0.3" textLength="33.60" lengthAdjust="spacingAndGlyphs">Club</text>
<text x="991.42" y="1012.30" font-size="17.40" font-weight="normal" fill="#4d4d4d" stroke="#4d4d4d" stroke-width="0.3" textLength="32.96" lengthAdjust="spacingAndGlyphs">Data</text>
<text x="207.68" y="208.60" font-size="22.00" font-weight="normal" fill="#000" stroke="#000" stroke-width="0.3" textLength="12.94" lengthAdjust="spacingAndGlyphs">A</text>
<text x="206.69" y="385.00" font-size="22.00" font-weight="normal" fill="#000" stroke="#000" stroke-width="0.3" textLength="14.58" lengthAdjust="spacingAndGlyphs">B</text>
<text x="206.88" y="584.00" font-size="22.00" font-weight="normal" fill="#000" stroke="#000" stroke-width="0.3" textLength="14.40" lengthAdjust="spacingAndGlyphs">C</text>
<text x="206.79" y="756.30" font-size="22.00" font-weight="normal" fill="#000" stroke="#000" stroke-width="0.3" textLength="14.66" lengthAdjust="spacingAndGlyphs">D</text>
<text x="207.54" y="892.70" font-size="22.00" font-weight="normal" fill="#000" stroke="#000" stroke-width="0.3" textLength="12.70" lengthAdjust="spacingAndGlyphs">E</text>
<text x="967.91" y="482.10" font-size="21.50" font-weight="normal" fill="#000" stroke="#000" stroke-width="0.3" textLength="80.40" lengthAdjust="spacingAndGlyphs">complete</text>
<text x="960.26" y="865.60" font-size="21.50" font-weight="normal" fill="#000" stroke="#000" stroke-width="0.3" textLength="95.62" lengthAdjust="spacingAndGlyphs">incomplete</text>
<text x="948.44" y="928.60" font-size="21.50" font-weight="normal" fill="#000" stroke="#000" stroke-width="0.3" textLength="118.91" lengthAdjust="spacingAndGlyphs">not submitted</text>
<text x="1157.60" y="110.10" font-size="24.00" font-weight="bold" fill="#111" textLength="50.98" lengthAdjust="spacingAndGlyphs">Club</text>
<text x="1243.03" y="110.10" font-size="24.00" font-weight="bold" fill="#111" textLength="136.87" lengthAdjust="spacingAndGlyphs">Data Entries</text>
<text x="1445.39" y="110.10" font-size="24.00" font-weight="bold" fill="#111" textLength="14.45" lengthAdjust="spacingAndGlyphs">n</text>
<text x="1157.77" y="201.30" font-size="22.80" font-weight="normal" fill="#111" textLength="15.47" lengthAdjust="spacingAndGlyphs">A</text>
<text x="1243.32" y="201.30" font-size="22.80" font-weight="normal" fill="#111" textLength="107.53" lengthAdjust="spacingAndGlyphs">complete</text>
<text x="1445.23" y="201.30" font-size="22.80" font-weight="normal" fill="#111" textLength="49.88" lengthAdjust="spacingAndGlyphs">1091</text>
<text x="1157.77" y="262.80" font-size="22.80" font-weight="normal" fill="#111" textLength="15.47" lengthAdjust="spacingAndGlyphs">A</text>
<text x="1243.54" y="262.80" font-size="22.80" font-weight="normal" fill="#111" textLength="128.86" lengthAdjust="spacingAndGlyphs">incomplete</text>
<text x="1445.93" y="262.80" font-size="22.80" font-weight="normal" fill="#111" textLength="25.12" lengthAdjust="spacingAndGlyphs">28</text>
<text x="1157.71" y="348.80" font-size="22.80" font-weight="normal" fill="#111" textLength="14.31" lengthAdjust="spacingAndGlyphs">B</text>
<text x="1243.32" y="348.80" font-size="22.80" font-weight="normal" fill="#111" textLength="107.53" lengthAdjust="spacingAndGlyphs">complete</text>
<text x="1445.23" y="348.80" font-size="22.80" font-weight="normal" fill="#111" textLength="51.77" lengthAdjust="spacingAndGlyphs">1277</text>
<text x="1157.71" y="410.50" font-size="22.80" font-weight="normal" fill="#111" textLength="14.31" lengthAdjust="spacingAndGlyphs">B</text>
<text x="1243.54" y="410.50" font-size="22.80" font-weight="normal" fill="#111" textLength="128.86" lengthAdjust="spacingAndGlyphs">incomplete</text>
<text x="1445.17" y="410.50" font-size="22.80" font-weight="normal" fill="#111" textLength="37.91" lengthAdjust="spacingAndGlyphs">193</text>
<text x="1157.93" y="525.30" font-size="22.80" font-weight="normal" fill="#111" textLength="15.46" lengthAdjust="spacingAndGlyphs">C</text>
<text x="1243.32" y="525.30" font-size="22.80" font-weight="normal" fill="#111" textLength="107.53" lengthAdjust="spacingAndGlyphs">complete</text>
<text x="1445.21" y="525.30" font-size="22.80" font-weight="normal" fill="#111" textLength="50.74" lengthAdjust="spacingAndGlyphs">1173</text>
<text x="1157.93" y="587.00" font-size="22.80" font-weight="normal" fill="#111" textLength="15.46" lengthAdjust="spacingAndGlyphs">C</text>
<text x="1243.54" y="587.00" font-size="22.80" font-weight="normal" fill="#111" textLength="128.86" lengthAdjust="spacingAndGlyphs">incomplete</text>
<text x="1445.47" y="587.00" font-size="22.80" font-weight="normal" fill="#111" textLength="39.40" lengthAdjust="spacingAndGlyphs">277</text>
<text x="1157.68" y="698.40" font-size="22.80" font-weight="normal" fill="#111" textLength="16.66" lengthAdjust="spacingAndGlyphs">D</text>
<text x="1243.32" y="698.40" font-size="22.80" font-weight="normal" fill="#111" textLength="107.53" lengthAdjust="spacingAndGlyphs">complete</text>
<text x="1444.90" y="698.40" font-size="22.80" font-weight="normal" fill="#111" textLength="38.63" lengthAdjust="spacingAndGlyphs">675</text>
<text x="1157.68" y="760.00" font-size="22.80" font-weight="normal" fill="#111" textLength="16.66" lengthAdjust="spacingAndGlyphs">D</text>
<text x="1243.23" y="760.00" font-size="22.80" font-weight="normal" fill="#111" textLength="158.33" lengthAdjust="spacingAndGlyphs">not submitted</text>
<text x="1445.09" y="760.00" font-size="22.80" font-weight="normal" fill="#111" textLength="38.63" lengthAdjust="spacingAndGlyphs">406</text>
<text x="1157.96" y="862.20" font-size="22.80" font-weight="normal" fill="#111" textLength="12.69" lengthAdjust="spacingAndGlyphs">E</text>
<text x="1243.32" y="862.20" font-size="22.80" font-weight="normal" fill="#111" textLength="107.53" lengthAdjust="spacingAndGlyphs">complete</text>
<text x="1445.12" y="862.20" font-size="22.80" font-weight="normal" fill="#111" textLength="39.60" lengthAdjust="spacingAndGlyphs">912</text>
<text x="1157.96" y="924.20" font-size="22.80" font-weight="normal" fill="#111" textLength="12.69" lengthAdjust="spacingAndGlyphs">E</text>
<text x="1243.54" y="924.20" font-size="22.80" font-weight="normal" fill="#111" textLength="128.86" lengthAdjust="spacingAndGlyphs">incomplete</text>
<text x="1445.18" y="924.20" font-size="22.80" font-weight="normal" fill="#111" textLength="13.45" lengthAdjust="spacingAndGlyphs">8</text>
<text transform="translate(28.48,0) rotate(-90)" x="-591.49" y="0" font-size="20.50" font-weight="bold" fill="#000" textLength="109.39" lengthAdjust="spacingAndGlyphs">Frequency</text>
</svg>
</body></html>
